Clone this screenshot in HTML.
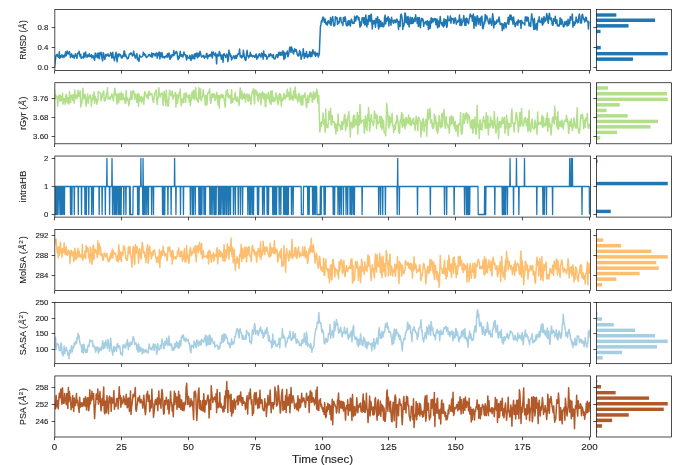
<!DOCTYPE html><html><head><meta charset="utf-8"><style>html,body{margin:0;padding:0;background:#fff;overflow:hidden}svg{display:block}svg text{font-family:"Liberation Sans",sans-serif}</style></head><body><svg width="685" height="465" viewBox="0 0 685 465" style="will-change:transform">
<rect width="685" height="465" fill="#fff"/>
<defs><clipPath id="c0"><rect x="54.85" y="9.45" width="535.60" height="61.05"/></clipPath>
<clipPath id="c1"><rect x="54.85" y="82.75" width="535.60" height="61.05"/></clipPath>
<clipPath id="c2"><rect x="54.85" y="156.05" width="535.60" height="61.05"/></clipPath>
<clipPath id="c3"><rect x="54.85" y="229.35" width="535.60" height="61.05"/></clipPath>
<clipPath id="c4"><rect x="54.85" y="302.65" width="535.60" height="61.05"/></clipPath>
<clipPath id="c5"><rect x="54.85" y="375.95" width="535.60" height="61.05"/></clipPath></defs>
<polyline points="54.50,67.40 55.03,63.00 55.57,58.50 56.10,55.11 56.64,54.83 57.17,54.26 57.71,56.62 58.24,55.68 58.78,57.30 59.31,51.78 59.85,58.37 60.38,55.94 60.92,57.20 61.45,55.61 61.99,54.75 62.52,56.47 63.06,57.63 63.59,55.55 64.13,55.25 64.66,57.07 65.20,53.93 65.73,51.85 66.27,55.74 66.81,54.12 67.34,50.98 67.88,52.84 68.41,53.99 68.94,52.59 69.48,51.63 70.02,54.89 70.55,57.48 71.09,55.45 71.62,53.89 72.16,56.13 72.69,57.32 73.22,55.27 73.76,56.76 74.30,58.18 74.83,55.65 75.36,53.78 75.90,56.02 76.44,56.24 76.97,58.20 77.50,53.23 78.04,53.63 78.58,53.32 79.11,51.24 79.64,55.01 80.18,56.67 80.72,54.15 81.25,58.43 81.78,58.02 82.32,57.50 82.86,56.88 83.39,58.01 83.92,53.08 84.46,56.48 85.00,57.13 85.53,51.92 86.06,55.65 86.60,55.05 87.13,57.25 87.67,54.94 88.20,55.43 88.74,56.34 89.28,53.77 89.81,56.58 90.34,55.56 90.88,56.70 91.41,54.64 91.95,57.86 92.48,57.42 93.02,55.56 93.56,57.02 94.09,58.72 94.62,60.26 95.16,52.99 95.69,57.07 96.23,56.94 96.77,55.66 97.30,53.34 97.84,57.98 98.37,53.23 98.91,56.40 99.44,58.69 99.97,52.61 100.51,54.32 101.05,52.39 101.58,55.51 102.12,58.99 102.65,60.84 103.19,52.64 103.72,53.71 104.25,56.81 104.79,59.40 105.33,57.31 105.86,54.26 106.40,56.00 106.93,55.64 107.47,55.15 108.00,53.85 108.53,56.12 109.07,56.40 109.60,55.55 110.14,55.09 110.67,52.60 111.21,53.90 111.75,57.98 112.28,55.65 112.81,52.36 113.35,57.96 113.88,57.27 114.42,60.68 114.95,56.76 115.49,54.79 116.03,52.18 116.56,57.90 117.09,61.85 117.63,55.00 118.16,54.02 118.70,56.63 119.23,53.93 119.77,54.66 120.31,54.62 120.84,55.84 121.38,58.11 121.91,56.15 122.44,57.78 122.98,55.09 123.52,56.24 124.05,50.91 124.58,51.39 125.12,56.55 125.66,54.46 126.19,56.68 126.72,57.04 127.26,58.87 127.80,58.08 128.33,58.39 128.87,55.91 129.40,54.09 129.94,53.65 130.47,54.11 131.00,52.76 131.54,53.80 132.07,55.03 132.61,56.05 133.14,54.93 133.68,51.13 134.22,54.54 134.75,55.90 135.28,58.10 135.82,57.40 136.36,54.51 136.89,53.75 137.43,59.76 137.96,58.14 138.50,60.23 139.03,61.33 139.56,54.90 140.10,56.33 140.63,56.78 141.17,57.10 141.70,57.12 142.24,56.36 142.78,56.14 143.31,52.32 143.84,54.57 144.38,53.71 144.92,55.51 145.45,54.53 145.99,56.78 146.52,57.68 147.06,56.71 147.59,56.53 148.12,56.00 148.66,54.67 149.19,55.04 149.73,54.37 150.26,56.23 150.80,55.76 151.33,56.94 151.87,52.87 152.41,57.06 152.94,54.17 153.47,53.66 154.01,54.77 154.55,54.16 155.08,55.97 155.62,54.38 156.15,52.95 156.69,53.16 157.22,58.07 157.75,56.19 158.29,53.09 158.82,55.12 159.36,52.00 159.89,58.91 160.43,52.83 160.97,56.12 161.50,56.93 162.03,52.60 162.57,55.68 163.11,57.86 163.64,57.11 164.18,56.49 164.71,57.92 165.25,56.43 165.78,56.52 166.31,55.50 166.85,57.00 167.38,53.76 167.92,57.02 168.45,54.74 168.99,52.97 169.53,55.90 170.06,59.47 170.59,58.54 171.13,55.03 171.67,57.06 172.20,54.87 172.74,55.17 173.27,55.72 173.81,50.40 174.34,54.99 174.88,53.16 175.41,53.54 175.94,51.87 176.48,51.44 177.01,52.64 177.55,56.87 178.08,59.61 178.62,56.34 179.16,58.21 179.69,55.53 180.22,51.28 180.76,55.07 181.30,56.50 181.83,54.81 182.37,56.12 182.90,57.00 183.44,53.93 183.97,51.94 184.50,54.37 185.04,54.88 185.57,54.66 186.11,57.64 186.65,59.90 187.18,55.52 187.72,57.16 188.25,58.03 188.78,57.69 189.32,58.38 189.85,55.28 190.39,57.20 190.93,60.48 191.46,58.39 192.00,54.76 192.53,56.80 193.06,58.69 193.60,57.05 194.13,54.62 194.67,58.88 195.21,53.44 195.74,56.30 196.28,55.70 196.81,52.93 197.34,57.81 197.88,56.83 198.41,53.22 198.95,56.48 199.49,54.80 200.02,51.15 200.56,53.16 201.09,55.71 201.62,57.05 202.16,56.26 202.69,55.83 203.23,56.71 203.76,55.35 204.30,58.20 204.84,56.46 205.37,56.43 205.91,56.99 206.44,53.49 206.97,53.58 207.51,58.64 208.04,56.96 208.58,55.24 209.12,56.30 209.65,54.65 210.19,56.04 210.72,54.19 211.25,55.94 211.79,52.11 212.32,57.90 212.86,54.90 213.40,51.90 213.93,54.36 214.47,54.51 215.00,55.73 215.53,53.04 216.07,55.98 216.60,63.84 217.14,54.37 217.68,56.11 218.21,55.00 218.75,55.91 219.28,51.58 219.81,52.20 220.35,55.96 220.88,55.58 221.42,59.28 221.96,54.75 222.49,55.82 223.03,62.21 223.56,55.20 224.09,53.48 224.63,55.10 225.16,55.40 225.70,57.46 226.24,56.26 226.77,54.03 227.31,55.76 227.84,61.58 228.38,59.66 228.91,50.14 229.44,54.19 229.98,53.35 230.51,56.55 231.05,55.40 231.59,59.92 232.12,58.56 232.66,58.20 233.19,56.54 233.72,55.70 234.26,56.39 234.79,58.68 235.33,57.42 235.87,55.17 236.40,58.39 236.94,56.59 237.47,55.62 238.00,53.82 238.54,53.97 239.07,53.84 239.61,48.96 240.15,56.56 240.68,57.07 241.22,55.41 241.75,57.92 242.28,57.05 242.82,56.73 243.35,50.25 243.89,54.00 244.43,56.48 244.96,59.40 245.50,60.51 246.03,59.79 246.56,53.82 247.10,50.29 247.63,55.82 248.17,55.71 248.71,57.79 249.24,55.75 249.78,56.13 250.31,52.32 250.84,55.95 251.38,54.67 251.91,56.20 252.45,56.76 252.99,55.57 253.52,56.31 254.06,55.71 254.59,57.33 255.12,57.08 255.66,54.66 256.19,54.09 256.73,59.23 257.26,56.10 257.80,57.93 258.34,56.95 258.87,54.60 259.40,53.71 259.94,55.49 260.48,56.16 261.01,57.10 261.54,53.04 262.08,53.75 262.62,55.02 263.15,59.09 263.69,50.98 264.22,55.67 264.75,54.40 265.29,56.33 265.82,54.64 266.36,56.23 266.89,59.25 267.43,57.13 267.97,56.88 268.50,56.70 269.03,54.13 269.57,56.53 270.11,55.32 270.64,53.71 271.18,55.14 271.71,54.99 272.25,57.18 272.78,55.82 273.31,54.45 273.85,58.65 274.38,58.44 274.92,59.03 275.46,57.66 275.99,55.76 276.52,54.69 277.06,54.79 277.60,57.57 278.13,56.25 278.66,52.39 279.20,54.87 279.74,52.26 280.27,55.31 280.81,52.83 281.34,52.20 281.88,55.19 282.41,54.24 282.94,50.70 283.48,55.43 284.01,59.56 284.55,52.17 285.09,58.14 285.62,53.68 286.15,53.22 286.69,53.84 287.23,51.11 287.76,56.75 288.29,56.06 288.83,53.12 289.37,49.60 289.90,46.90 290.44,49.00 290.97,52.31 291.50,47.00 292.04,48.82 292.57,50.49 293.11,52.86 293.64,54.01 294.18,50.17 294.72,48.77 295.25,51.17 295.78,49.82 296.32,49.66 296.86,52.77 297.39,54.76 297.93,55.95 298.46,54.36 299.00,55.76 299.53,50.50 300.06,53.66 300.60,51.94 301.13,59.37 301.67,57.10 302.21,55.34 302.74,54.23 303.27,48.78 303.81,54.96 304.35,58.26 304.88,53.61 305.41,55.86 305.95,56.40 306.49,51.39 307.02,55.99 307.56,57.85 308.09,55.68 308.62,54.59 309.16,56.29 309.69,51.39 310.23,54.09 310.76,56.79 311.30,52.16 311.83,56.27 312.37,53.91 312.90,49.69 313.44,53.30 313.98,52.07 314.51,54.73 315.05,51.91 315.58,56.35 316.12,53.20 316.65,55.04 317.19,53.27 317.72,53.53 318.25,56.99 318.79,55.48 319.32,53.81 319.86,40.00 320.39,27.00 320.93,24.43 321.46,20.81 322.00,22.04 322.54,17.92 323.07,17.14 323.61,17.64 324.14,21.78 324.68,22.41 325.21,18.97 325.75,23.36 326.28,24.40 326.81,22.51 327.35,25.10 327.88,21.08 328.42,20.87 328.95,22.84 329.49,21.49 330.02,24.06 330.56,17.56 331.10,25.44 331.63,19.45 332.17,20.36 332.70,16.39 333.24,22.38 333.77,25.88 334.31,25.89 334.84,25.08 335.38,16.72 335.91,17.70 336.44,18.99 336.98,17.63 337.51,24.42 338.05,22.56 338.58,21.47 339.12,23.01 339.65,18.38 340.19,17.60 340.73,17.54 341.26,22.25 341.80,22.66 342.33,23.55 342.87,25.45 343.40,17.48 343.94,18.61 344.47,21.27 345.00,16.67 345.54,18.55 346.07,24.23 346.61,25.67 347.14,25.87 347.68,22.36 348.21,20.79 348.75,24.90 349.29,20.74 349.82,22.35 350.36,26.05 350.89,20.99 351.43,19.14 351.96,20.84 352.50,23.26 353.03,23.35 353.56,22.24 354.10,23.40 354.63,16.23 355.17,17.34 355.70,21.07 356.24,18.07 356.77,16.05 357.31,16.11 357.85,17.11 358.38,19.85 358.92,17.50 359.45,21.35 359.99,27.13 360.52,21.96 361.06,25.80 361.59,23.19 362.12,17.84 362.66,19.73 363.19,17.62 363.73,23.20 364.26,17.73 364.80,25.12 365.33,24.05 365.87,14.91 366.40,22.71 366.94,26.91 367.48,19.71 368.01,24.36 368.55,15.75 369.08,21.05 369.62,15.55 370.15,21.80 370.69,15.27 371.22,14.13 371.75,20.61 372.29,29.01 372.82,20.80 373.36,24.05 373.89,22.23 374.43,20.38 374.96,23.23 375.50,27.32 376.04,18.27 376.57,22.63 377.11,22.75 377.64,16.71 378.18,25.92 378.71,28.91 379.25,19.55 379.78,26.91 380.31,22.61 380.85,21.00 381.38,26.40 381.92,23.10 382.45,22.77 382.99,26.80 383.52,26.82 384.06,25.47 384.60,17.33 385.13,15.11 385.67,23.92 386.20,18.65 386.74,21.28 387.27,17.61 387.81,19.93 388.34,16.64 388.88,25.96 389.41,18.74 389.94,20.37 390.48,20.47 391.01,25.27 391.55,17.22 392.08,20.37 392.62,20.40 393.15,22.94 393.69,23.25 394.23,20.10 394.76,21.88 395.30,20.13 395.83,22.67 396.37,21.22 396.90,19.04 397.44,20.75 397.97,22.44 398.50,29.30 399.04,21.22 399.57,22.33 400.11,26.52 400.64,15.22 401.18,14.11 401.71,15.78 402.25,19.81 402.79,29.37 403.32,24.26 403.86,26.03 404.39,21.49 404.93,12.89 405.46,13.52 406.00,22.87 406.53,22.25 407.06,17.04 407.60,24.28 408.13,16.62 408.67,24.25 409.20,26.87 409.74,19.79 410.27,17.20 410.81,23.38 411.35,17.96 411.88,23.59 412.42,17.66 412.95,23.34 413.49,22.03 414.02,19.96 414.56,17.96 415.09,21.45 415.62,14.84 416.16,19.06 416.69,19.49 417.23,23.27 417.76,17.39 418.30,26.39 418.83,21.25 419.37,17.39 419.90,25.27 420.44,27.80 420.98,21.96 421.51,18.38 422.05,20.77 422.58,18.83 423.12,19.74 423.65,26.33 424.19,23.65 424.72,22.27 425.25,22.68 425.79,21.38 426.32,24.20 426.86,24.90 427.39,20.75 427.93,21.55 428.46,29.63 429.00,24.41 429.54,21.28 430.07,28.33 430.61,22.74 431.14,17.82 431.68,22.92 432.21,18.54 432.75,19.04 433.28,21.97 433.81,21.00 434.35,18.62 434.88,18.87 435.42,18.78 435.95,24.80 436.49,19.53 437.02,18.98 437.56,27.83 438.10,20.71 438.63,26.29 439.17,26.81 439.70,21.88 440.24,16.55 440.77,21.90 441.31,23.73 441.84,25.10 442.38,22.31 442.91,25.63 443.44,26.93 443.98,18.81 444.51,25.70 445.05,22.78 445.58,19.66 446.12,19.88 446.65,27.45 447.19,25.91 447.73,16.09 448.26,20.54 448.80,20.67 449.33,20.57 449.87,19.39 450.40,15.92 450.94,23.18 451.47,18.45 452.00,19.46 452.54,18.87 453.07,18.32 453.61,23.25 454.14,23.01 454.68,19.33 455.21,17.67 455.75,18.96 456.29,24.15 456.82,22.30 457.36,22.30 457.89,20.37 458.43,20.23 458.96,21.83 459.50,15.08 460.03,25.59 460.56,19.46 461.10,18.98 461.63,25.43 462.17,22.89 462.70,21.76 463.24,19.39 463.77,15.56 464.31,20.79 464.85,25.30 465.38,19.01 465.92,25.52 466.45,18.28 466.99,18.18 467.52,22.41 468.06,21.52 468.59,23.71 469.12,19.24 469.66,17.35 470.19,14.11 470.73,15.73 471.26,16.50 471.80,15.45 472.33,21.19 472.87,19.00 473.40,14.02 473.94,28.36 474.48,19.85 475.01,16.70 475.55,24.63 476.08,25.96 476.62,18.28 477.15,15.64 477.69,16.74 478.22,24.26 478.75,20.82 479.29,18.43 479.82,20.63 480.36,25.30 480.89,17.33 481.43,19.19 481.96,16.13 482.50,27.72 483.04,28.82 483.57,26.07 484.11,21.80 484.64,23.66 485.18,14.56 485.71,20.90 486.25,16.64 486.78,15.82 487.31,17.79 487.85,19.40 488.38,22.89 488.92,24.02 489.45,22.74 489.99,18.35 490.52,23.03 491.06,21.23 491.60,25.33 492.13,18.96 492.67,13.84 493.20,17.68 493.74,27.95 494.27,24.24 494.81,21.22 495.34,24.31 495.88,23.63 496.41,23.35 496.94,19.95 497.48,21.29 498.01,21.99 498.55,19.23 499.08,17.05 499.62,20.93 500.15,24.55 500.69,24.17 501.23,23.57 501.76,23.48 502.30,30.60 502.83,24.05 503.37,25.42 503.90,28.84 504.44,22.99 504.97,22.54 505.50,25.13 506.04,27.85 506.57,23.68 507.11,23.02 507.64,21.96 508.18,17.30 508.71,24.33 509.25,21.04 509.79,15.35 510.32,19.62 510.86,15.04 511.39,16.60 511.93,20.43 512.46,17.98 513.00,24.32 513.53,16.88 514.07,21.34 514.60,23.24 515.13,26.72 515.67,25.57 516.20,22.98 516.74,21.94 517.27,21.26 517.81,25.23 518.35,19.86 518.88,22.83 519.41,21.32 519.95,22.16 520.49,20.61 521.02,28.52 521.56,20.53 522.09,22.05 522.62,22.43 523.16,23.65 523.69,23.35 524.23,23.21 524.76,25.09 525.30,16.94 525.84,20.50 526.37,16.95 526.90,21.27 527.44,17.28 527.98,17.25 528.51,20.32 529.05,25.94 529.58,24.25 530.12,22.95 530.65,26.49 531.18,19.14 531.72,13.74 532.25,18.38 532.79,19.81 533.33,25.28 533.86,29.48 534.39,18.42 534.93,29.27 535.46,28.30 536.00,25.62 536.54,23.47 537.07,30.10 537.61,23.38 538.14,20.14 538.67,21.59 539.21,16.71 539.75,22.05 540.28,21.12 540.82,22.45 541.35,22.81 541.88,18.02 542.42,25.21 542.95,18.65 543.49,23.86 544.02,16.40 544.56,21.64 545.10,18.61 545.63,20.96 546.16,19.05 546.70,13.41 547.24,15.95 547.77,20.52 548.31,23.34 548.84,16.72 549.38,13.15 549.91,16.73 550.44,19.71 550.98,18.86 551.51,18.09 552.05,23.63 552.59,25.13 553.12,24.66 553.65,18.81 554.19,21.12 554.73,20.65 555.26,16.33 555.80,23.38 556.33,22.07 556.87,19.84 557.40,25.92 557.93,24.90 558.47,25.01 559.00,26.21 559.54,24.80 560.08,17.71 560.61,19.30 561.14,24.39 561.68,19.33 562.21,21.08 562.75,22.67 563.29,26.57 563.82,26.86 564.36,25.54 564.89,21.56 565.42,24.54 565.96,23.81 566.50,21.29 567.03,26.00 567.57,23.98 568.10,19.29 568.63,25.29 569.17,21.27 569.71,23.37 570.24,16.53 570.77,20.32 571.31,17.90 571.85,17.32 572.38,13.99 572.91,27.23 573.45,22.01 573.99,22.30 574.52,25.33 575.05,21.72 575.59,23.18 576.12,17.05 576.66,21.16 577.20,19.88 577.73,22.77 578.26,22.25 578.80,16.77 579.34,14.07 579.87,16.40 580.40,22.88 580.94,23.10 581.48,23.07 582.01,14.76 582.54,14.40 583.08,17.09 583.62,19.34 584.15,18.86 584.68,22.05 585.22,20.88 585.75,17.17 586.29,17.47 586.83,21.04 587.36,21.51 587.89,21.10 588.43,29.05 588.97,21.96 589.50,21.86" fill="none" stroke="#1f78b4" stroke-width="1.5" stroke-linejoin="round" clip-path="url(#c0)"/>
<polyline points="54.50,89.00 55.03,98.90 55.57,94.44 56.10,96.61 56.64,96.87 57.17,97.14 57.71,106.26 58.24,96.62 58.78,95.62 59.31,94.81 59.85,101.12 60.38,95.56 60.92,96.39 61.45,100.62 61.99,100.53 62.52,93.09 63.06,104.28 63.59,98.83 64.13,101.16 64.66,98.74 65.20,104.43 65.73,96.17 66.27,94.16 66.81,98.39 67.34,103.00 67.88,97.47 68.41,100.86 68.94,104.03 69.48,91.61 70.02,102.34 70.55,102.40 71.09,95.43 71.62,96.60 72.16,94.94 72.69,100.33 73.22,94.67 73.76,99.54 74.30,103.22 74.83,90.12 75.36,98.17 75.90,96.81 76.44,94.87 76.97,98.70 77.50,96.63 78.04,90.32 78.58,93.74 79.11,96.56 79.64,93.72 80.18,90.89 80.72,106.96 81.25,104.18 81.78,103.27 82.32,98.07 82.86,88.19 83.39,94.85 83.92,99.04 84.46,95.21 85.00,94.25 85.53,98.16 86.06,106.22 86.60,99.26 87.13,97.82 87.67,94.05 88.20,103.38 88.74,99.31 89.28,97.34 89.81,96.08 90.34,94.82 90.88,98.26 91.41,106.51 91.95,98.85 92.48,100.16 93.02,94.73 93.56,98.81 94.09,91.74 94.62,103.41 95.16,96.14 95.69,99.87 96.23,98.66 96.77,104.14 97.30,101.10 97.84,100.98 98.37,91.35 98.91,92.52 99.44,92.49 99.97,92.73 100.51,93.20 101.05,100.74 101.58,97.33 102.12,97.26 102.65,93.21 103.19,92.72 103.72,90.85 104.25,101.03 104.79,97.92 105.33,100.19 105.86,98.33 106.40,93.21 106.93,96.30 107.47,87.69 108.00,99.06 108.53,97.29 109.07,97.93 109.60,97.49 110.14,99.60 110.67,96.18 111.21,96.98 111.75,93.98 112.28,95.55 112.81,98.15 113.35,100.93 113.88,95.70 114.42,90.74 114.95,88.24 115.49,94.88 116.03,93.51 116.56,99.07 117.09,104.09 117.63,94.23 118.16,102.27 118.70,102.68 119.23,93.34 119.77,94.62 120.31,99.80 120.84,93.73 121.38,92.28 121.91,99.84 122.44,94.70 122.98,93.97 123.52,99.52 124.05,97.78 124.58,98.22 125.12,103.51 125.66,103.51 126.19,90.58 126.72,100.71 127.26,97.78 127.80,98.88 128.33,101.15 128.87,105.64 129.40,101.76 129.94,97.42 130.47,99.36 131.00,91.11 131.54,99.14 132.07,98.55 132.61,92.41 133.14,90.83 133.68,90.97 134.22,93.11 134.75,99.24 135.28,96.69 135.82,94.22 136.36,95.71 136.89,102.40 137.43,96.41 137.96,93.60 138.50,106.13 139.03,94.46 139.56,98.93 140.10,101.09 140.63,98.18 141.17,96.28 141.70,102.48 142.24,98.21 142.78,99.96 143.31,97.23 143.84,104.18 144.38,94.03 144.92,91.56 145.45,92.95 145.99,96.20 146.52,95.97 147.06,97.57 147.59,94.43 148.12,98.89 148.66,91.39 149.19,91.30 149.73,95.40 150.26,93.95 150.80,93.34 151.33,94.24 151.87,93.74 152.41,97.89 152.94,100.16 153.47,102.64 154.01,98.29 154.55,94.26 155.08,92.24 155.62,92.03 156.15,89.91 156.69,98.86 157.22,104.49 157.75,97.40 158.29,98.15 158.82,87.85 159.36,95.86 159.89,94.25 160.43,97.04 160.97,93.64 161.50,93.60 162.03,93.07 162.57,93.94 163.11,105.29 163.64,100.74 164.18,91.31 164.71,95.51 165.25,95.37 165.78,105.56 166.31,90.31 166.85,99.06 167.38,100.74 167.92,106.48 168.45,105.21 168.99,97.20 169.53,90.32 170.06,92.15 170.59,93.71 171.13,95.86 171.67,94.08 172.20,91.07 172.74,99.11 173.27,97.83 173.81,95.46 174.34,94.83 174.88,94.14 175.41,92.40 175.94,107.30 176.48,96.64 177.01,94.46 177.55,103.22 178.08,96.15 178.62,98.29 179.16,92.91 179.69,94.94 180.22,89.11 180.76,98.32 181.30,105.99 181.83,99.11 182.37,98.87 182.90,102.33 183.44,102.63 183.97,93.95 184.50,93.60 185.04,95.37 185.57,102.37 186.11,92.64 186.65,94.29 187.18,95.83 187.72,97.11 188.25,98.04 188.78,95.62 189.32,102.19 189.85,94.44 190.39,105.64 190.93,98.83 191.46,100.21 192.00,92.13 192.53,98.01 193.06,91.90 193.60,90.30 194.13,99.73 194.67,97.28 195.21,92.11 195.74,87.82 196.28,99.18 196.81,97.27 197.34,100.41 197.88,101.38 198.41,102.30 198.95,87.82 199.49,89.86 200.02,98.25 200.56,88.91 201.09,100.84 201.62,98.95 202.16,96.97 202.69,96.51 203.23,89.91 203.76,95.68 204.30,95.86 204.84,98.29 205.37,105.38 205.91,95.33 206.44,99.52 206.97,104.72 207.51,94.44 208.04,92.79 208.58,92.97 209.12,91.32 209.65,88.97 210.19,98.59 210.72,103.37 211.25,99.91 211.79,94.68 212.32,93.92 212.86,97.56 213.40,93.65 213.93,95.77 214.47,94.41 215.00,100.47 215.53,99.90 216.07,97.80 216.60,92.14 217.14,94.23 217.68,99.82 218.21,104.90 218.75,95.50 219.28,107.97 219.81,96.33 220.35,95.18 220.88,98.23 221.42,94.24 221.96,96.81 222.49,97.45 223.03,95.09 223.56,95.60 224.09,99.23 224.63,102.56 225.16,107.20 225.70,98.80 226.24,90.95 226.77,94.44 227.31,89.78 227.84,96.63 228.38,93.98 228.91,98.10 229.44,95.96 229.98,96.87 230.51,95.23 231.05,103.44 231.59,89.67 232.12,100.98 232.66,102.34 233.19,100.12 233.72,98.44 234.26,98.95 234.79,95.38 235.33,92.25 235.87,100.01 236.40,100.53 236.94,101.34 237.47,96.89 238.00,101.60 238.54,100.24 239.07,105.47 239.61,97.92 240.15,87.97 240.68,91.55 241.22,98.15 241.75,91.07 242.28,99.41 242.82,94.05 243.35,97.22 243.89,98.22 244.43,93.32 244.96,98.26 245.50,102.05 246.03,95.04 246.56,95.27 247.10,94.04 247.63,99.28 248.17,101.32 248.71,94.41 249.24,94.74 249.78,100.10 250.31,97.31 250.84,104.15 251.38,97.19 251.91,93.89 252.45,91.05 252.99,93.20 253.52,88.69 254.06,96.93 254.59,103.94 255.12,90.50 255.66,89.88 256.19,90.87 256.73,95.16 257.26,92.28 257.80,99.72 258.34,101.37 258.87,94.12 259.40,95.31 259.94,93.27 260.48,99.14 261.01,104.73 261.54,93.12 262.08,94.31 262.62,91.67 263.15,98.27 263.69,98.87 264.22,93.54 264.75,95.41 265.29,106.33 265.82,106.76 266.36,94.04 266.89,96.66 267.43,95.21 267.97,98.68 268.50,92.27 269.03,98.94 269.57,101.66 270.11,102.91 270.64,91.26 271.18,104.53 271.71,93.82 272.25,90.69 272.78,101.53 273.31,101.52 273.85,97.47 274.38,101.23 274.92,100.68 275.46,99.10 275.99,92.79 276.52,95.32 277.06,97.08 277.60,102.44 278.13,104.56 278.66,97.40 279.20,94.70 279.74,93.59 280.27,100.84 280.81,94.83 281.34,106.27 281.88,99.04 282.41,98.12 282.94,100.34 283.48,97.57 284.01,93.50 284.55,97.40 285.09,99.11 285.62,95.36 286.15,96.21 286.69,97.08 287.23,89.33 287.76,93.21 288.29,96.36 288.83,92.38 289.37,99.01 289.90,99.87 290.44,88.10 290.97,93.96 291.50,98.95 292.04,96.17 292.57,99.48 293.11,100.26 293.64,91.11 294.18,97.84 294.72,93.58 295.25,87.01 295.78,98.54 296.32,94.16 296.86,96.53 297.39,100.26 297.93,102.00 298.46,96.73 299.00,93.34 299.53,94.22 300.06,101.75 300.60,96.39 301.13,105.00 301.67,104.89 302.21,95.31 302.74,105.03 303.27,95.71 303.81,96.76 304.35,97.14 304.88,92.95 305.41,97.41 305.95,100.14 306.49,107.63 307.02,104.30 307.56,95.73 308.09,98.61 308.62,102.47 309.16,97.41 309.69,93.90 310.23,96.53 310.76,92.39 311.30,97.17 311.83,95.04 312.37,102.14 312.90,96.75 313.44,91.87 313.98,99.76 314.51,96.34 315.05,93.15 315.58,98.01 316.12,93.77 316.65,89.29 317.19,91.11 317.72,101.09 318.25,103.62 318.79,95.62 319.32,116.00 319.86,132.00 320.39,127.00 320.93,122.41 321.46,126.19 322.00,121.46 322.54,122.47 323.07,113.10 323.61,124.24 324.14,119.70 324.68,124.06 325.21,132.32 325.75,109.11 326.28,127.26 326.81,125.16 327.35,124.63 327.88,127.77 328.42,120.45 328.95,111.27 329.49,117.66 330.02,119.62 330.56,108.20 331.10,123.78 331.63,125.11 332.17,115.43 332.70,121.60 333.24,122.19 333.77,122.01 334.31,121.71 334.84,127.89 335.38,123.71 335.91,133.97 336.44,124.44 336.98,129.83 337.51,130.95 338.05,114.01 338.58,122.82 339.12,124.95 339.65,125.95 340.19,125.37 340.73,129.87 341.26,128.30 341.80,121.53 342.33,129.37 342.87,122.05 343.40,124.69 343.94,119.50 344.47,114.41 345.00,115.11 345.54,130.43 346.07,127.78 346.61,119.25 347.14,126.39 347.68,117.30 348.21,117.24 348.75,111.65 349.29,119.00 349.82,125.35 350.36,137.08 350.89,122.05 351.43,123.92 351.96,124.88 352.50,127.92 353.03,118.99 353.56,115.48 354.10,126.88 354.63,115.57 355.17,124.83 355.70,119.75 356.24,122.44 356.77,125.32 357.31,112.48 357.85,134.23 358.38,115.69 358.92,115.18 359.45,125.02 359.99,104.52 360.52,115.61 361.06,123.26 361.59,120.44 362.12,121.57 362.66,120.24 363.19,120.34 363.73,119.73 364.26,133.33 364.80,126.86 365.33,116.32 365.87,119.66 366.40,126.92 366.94,130.49 367.48,114.91 368.01,120.64 368.55,107.67 369.08,116.67 369.62,131.18 370.15,126.68 370.69,120.18 371.22,114.72 371.75,120.50 372.29,121.61 372.82,122.90 373.36,125.83 373.89,122.65 374.43,110.90 374.96,116.26 375.50,118.26 376.04,114.29 376.57,128.69 377.11,115.51 377.64,123.69 378.18,123.67 378.71,122.79 379.25,121.58 379.78,116.52 380.31,121.86 380.85,127.00 381.38,116.16 381.92,129.35 382.45,118.78 382.99,127.06 383.52,120.87 384.06,131.69 384.60,132.57 385.13,133.03 385.67,135.77 386.20,121.97 386.74,103.20 387.27,110.87 387.81,113.60 388.34,126.55 388.88,127.91 389.41,116.21 389.94,125.12 390.48,118.94 391.01,117.83 391.55,122.37 392.08,113.21 392.62,125.37 393.15,125.42 393.69,132.47 394.23,128.39 394.76,124.83 395.30,129.38 395.83,122.16 396.37,123.19 396.90,115.23 397.44,117.46 397.97,121.72 398.50,128.42 399.04,132.59 399.57,133.23 400.11,121.11 400.64,122.13 401.18,117.23 401.71,112.45 402.25,127.11 402.79,114.58 403.32,125.91 403.86,119.53 404.39,121.02 404.93,128.75 405.46,118.08 406.00,125.58 406.53,117.52 407.06,121.71 407.60,121.65 408.13,123.29 408.67,115.00 409.20,120.10 409.74,124.42 410.27,118.09 410.81,125.43 411.35,125.72 411.88,122.21 412.42,119.70 412.95,123.22 413.49,118.01 414.02,124.46 414.56,123.04 415.09,130.24 415.62,122.48 416.16,116.24 416.69,123.63 417.23,120.21 417.76,130.81 418.30,117.19 418.83,117.71 419.37,120.09 419.90,120.27 420.44,122.70 420.98,136.87 421.51,122.78 422.05,130.47 422.58,119.55 423.12,118.56 423.65,121.46 424.19,131.79 424.72,124.97 425.25,125.23 425.79,119.44 426.32,121.39 426.86,136.25 427.39,116.66 427.93,109.23 428.46,119.69 429.00,115.69 429.54,113.21 430.07,108.39 430.61,122.94 431.14,121.85 431.68,120.05 432.21,126.86 432.75,128.81 433.28,123.58 433.81,127.49 434.35,114.00 434.88,123.51 435.42,115.99 435.95,120.74 436.49,130.69 437.02,122.51 437.56,133.53 438.10,130.70 438.63,127.80 439.17,115.59 439.70,121.86 440.24,124.86 440.77,127.85 441.31,122.68 441.84,113.44 442.38,126.61 442.91,113.16 443.44,116.57 443.98,109.27 444.51,120.91 445.05,126.86 445.58,128.25 446.12,116.48 446.65,124.56 447.19,123.89 447.73,125.57 448.26,128.00 448.80,125.24 449.33,133.11 449.87,116.88 450.40,124.85 450.94,124.44 451.47,115.48 452.00,123.20 452.54,121.64 453.07,116.80 453.61,125.40 454.14,122.13 454.68,128.60 455.21,121.27 455.75,131.10 456.29,126.39 456.82,125.43 457.36,129.40 457.89,136.18 458.43,124.31 458.96,124.40 459.50,123.16 460.03,125.03 460.56,112.39 461.10,131.42 461.63,134.28 462.17,133.09 462.70,124.65 463.24,113.78 463.77,116.11 464.31,123.17 464.85,120.43 465.38,113.55 465.92,118.63 466.45,112.82 466.99,113.76 467.52,123.24 468.06,117.90 468.59,114.65 469.12,116.67 469.66,117.89 470.19,125.04 470.73,128.23 471.26,127.69 471.80,120.38 472.33,119.62 472.87,133.19 473.40,124.58 473.94,119.81 474.48,127.81 475.01,117.03 475.55,131.37 476.08,134.20 476.62,128.53 477.15,105.57 477.69,123.00 478.22,127.16 478.75,125.41 479.29,138.56 479.82,120.36 480.36,119.86 480.89,129.38 481.43,124.23 481.96,130.00 482.50,124.22 483.04,119.94 483.57,116.72 484.11,121.64 484.64,120.61 485.18,128.16 485.71,126.26 486.25,112.83 486.78,128.31 487.31,121.45 487.85,115.96 488.38,134.86 488.92,123.89 489.45,124.22 489.99,126.93 490.52,116.81 491.06,123.58 491.60,125.02 492.13,120.18 492.67,125.12 493.20,128.15 493.74,125.64 494.27,111.63 494.81,120.26 495.34,125.26 495.88,133.05 496.41,128.76 496.94,126.75 497.48,117.09 498.01,126.79 498.55,138.45 499.08,125.35 499.62,121.47 500.15,124.22 500.69,127.48 501.23,121.45 501.76,124.09 502.30,117.35 502.83,121.25 503.37,123.22 503.90,120.51 504.44,117.19 504.97,133.15 505.50,124.89 506.04,128.39 506.57,115.26 507.11,121.60 507.64,121.33 508.18,135.35 508.71,129.65 509.25,123.41 509.79,127.03 510.32,124.72 510.86,126.36 511.39,114.14 511.93,109.00 512.46,121.42 513.00,123.27 513.53,123.58 514.07,131.95 514.60,123.00 515.13,123.75 515.67,120.51 516.20,112.52 516.74,115.36 517.27,118.22 517.81,121.61 518.35,132.28 518.88,126.25 519.41,122.37 519.95,112.50 520.49,126.23 521.02,120.71 521.56,108.40 522.09,123.17 522.62,124.46 523.16,126.01 523.69,125.15 524.23,118.78 524.76,121.64 525.30,117.36 525.84,121.52 526.37,125.19 526.90,126.08 527.44,118.66 527.98,131.61 528.51,123.01 529.05,110.27 529.58,130.00 530.12,129.65 530.65,131.99 531.18,123.81 531.72,121.56 532.25,118.96 532.79,127.13 533.33,128.81 533.86,128.54 534.39,128.91 534.93,119.93 535.46,124.55 536.00,127.52 536.54,123.53 537.07,134.18 537.61,112.08 538.14,125.06 538.67,122.00 539.21,123.58 539.75,123.73 540.28,122.44 540.82,124.19 541.35,122.86 541.88,115.21 542.42,126.52 542.95,127.39 543.49,117.01 544.02,125.79 544.56,123.62 545.10,125.89 545.63,123.83 546.16,118.39 546.70,125.14 547.24,113.01 547.77,131.39 548.31,119.21 548.84,118.53 549.38,126.82 549.91,123.40 550.44,128.07 550.98,135.04 551.51,128.72 552.05,123.02 552.59,117.30 553.12,122.15 553.65,117.03 554.19,123.94 554.73,106.34 555.26,117.10 555.80,119.31 556.33,117.02 556.87,126.52 557.40,128.21 557.93,111.83 558.47,129.56 559.00,121.42 559.54,124.49 560.08,126.26 560.61,121.23 561.14,123.51 561.68,126.92 562.21,119.93 562.75,124.27 563.29,128.88 563.82,123.18 564.36,121.99 564.89,120.46 565.42,119.73 565.96,121.29 566.50,115.17 567.03,122.11 567.57,119.17 568.10,124.77 568.63,133.54 569.17,129.71 569.71,121.26 570.24,126.13 570.77,123.57 571.31,118.64 571.85,126.30 572.38,130.52 572.91,127.97 573.45,124.20 573.99,117.76 574.52,121.10 575.05,126.80 575.59,125.41 576.12,128.26 576.66,120.88 577.20,107.67 577.73,127.30 578.26,128.14 578.80,132.87 579.34,132.95 579.87,129.70 580.40,121.22 580.94,114.64 581.48,118.48 582.01,117.52 582.54,114.26 583.08,119.71 583.62,128.69 584.15,119.96 584.68,123.38 585.22,127.16 585.75,118.28 586.29,120.56 586.83,118.84 587.36,113.53 587.89,125.31 588.43,128.00 588.97,128.38 589.50,123.78" fill="none" stroke="#b2df8a" stroke-width="1.5" stroke-linejoin="round" clip-path="url(#c1)"/>
<polyline points="54.50,186.50 54.77,186.50 55.03,186.50 55.30,214.50 55.57,186.50 55.84,186.50 56.10,186.50 56.37,214.50 56.64,186.50 56.91,186.50 57.17,186.50 57.44,214.50 57.71,186.50 57.98,186.50 58.24,186.50 58.51,186.50 58.78,186.50 59.05,214.50 59.31,186.50 59.58,186.50 59.85,186.50 60.12,186.50 60.38,186.50 60.65,214.50 60.92,186.50 61.19,186.50 61.45,186.50 61.72,214.50 61.99,186.50 62.26,186.50 62.52,186.50 62.79,186.50 63.06,214.50 63.33,186.50 63.59,186.50 63.86,186.50 64.13,186.50 64.40,214.50 64.66,186.50 64.93,186.50 65.20,186.50 65.47,186.50 65.73,186.50 66.00,186.50 66.27,186.50 66.54,186.50 66.81,186.50 67.07,186.50 67.34,186.50 67.61,186.50 67.88,186.50 68.14,186.50 68.41,186.50 68.68,186.50 68.94,186.50 69.21,186.50 69.48,186.50 69.75,186.50 70.02,186.50 70.28,186.50 70.55,214.50 70.82,186.50 71.09,186.50 71.35,186.50 71.62,186.50 71.89,214.50 72.16,186.50 72.42,186.50 72.69,186.50 72.96,186.50 73.22,186.50 73.49,186.50 73.76,186.50 74.03,186.50 74.30,214.50 74.56,186.50 74.83,186.50 75.10,186.50 75.36,186.50 75.63,186.50 75.90,186.50 76.17,186.50 76.44,186.50 76.70,186.50 76.97,186.50 77.24,186.50 77.50,186.50 77.77,186.50 78.04,186.50 78.31,214.50 78.58,186.50 78.84,186.50 79.11,186.50 79.38,186.50 79.64,186.50 79.91,186.50 80.18,186.50 80.45,186.50 80.72,186.50 80.98,186.50 81.25,186.50 81.52,214.50 81.78,186.50 82.05,186.50 82.32,186.50 82.59,186.50 82.86,186.50 83.12,186.50 83.39,186.50 83.66,186.50 83.92,186.50 84.19,186.50 84.46,186.50 84.73,186.50 85.00,214.50 85.26,186.50 85.53,186.50 85.80,186.50 86.06,186.50 86.33,214.50 86.60,186.50 86.87,186.50 87.13,186.50 87.40,186.50 87.67,186.50 87.94,186.50 88.20,186.50 88.47,186.50 88.74,214.50 89.01,186.50 89.28,186.50 89.54,186.50 89.81,186.50 90.08,186.50 90.34,186.50 90.61,186.50 90.88,186.50 91.15,186.50 91.41,186.50 91.68,214.50 91.95,186.50 92.22,186.50 92.48,186.50 92.75,186.50 93.02,186.50 93.29,214.50 93.56,186.50 93.82,186.50 94.09,186.50 94.36,186.50 94.62,186.50 94.89,186.50 95.16,186.50 95.43,186.50 95.69,186.50 95.96,186.50 96.23,186.50 96.50,186.50 96.77,186.50 97.03,186.50 97.30,186.50 97.57,186.50 97.84,186.50 98.10,186.50 98.37,186.50 98.64,186.50 98.91,186.50 99.17,214.50 99.44,186.50 99.71,186.50 99.97,186.50 100.24,186.50 100.51,186.50 100.78,186.50 101.05,186.50 101.31,186.50 101.58,186.50 101.85,186.50 102.12,214.50 102.38,186.50 102.65,186.50 102.92,186.50 103.19,186.50 103.45,186.50 103.72,186.50 103.99,186.50 104.25,186.50 104.52,186.50 104.79,186.50 105.06,186.50 105.33,214.50 105.59,186.50 105.86,186.50 106.13,186.50 106.40,186.50 106.66,186.50 106.93,158.50 107.20,186.50 107.47,186.50 107.73,186.50 108.00,186.50 108.27,186.50 108.53,186.50 108.80,186.50 109.07,186.50 109.34,186.50 109.60,214.50 109.87,186.50 110.14,186.50 110.41,186.50 110.67,186.50 110.94,186.50 111.21,186.50 111.48,186.50 111.75,186.50 112.01,158.50 112.28,186.50 112.55,214.50 112.81,186.50 113.08,186.50 113.35,186.50 113.62,186.50 113.88,186.50 114.15,214.50 114.42,186.50 114.69,186.50 114.95,186.50 115.22,214.50 115.49,186.50 115.76,186.50 116.03,186.50 116.29,186.50 116.56,214.50 116.83,186.50 117.09,186.50 117.36,186.50 117.63,186.50 117.90,186.50 118.16,214.50 118.43,186.50 118.70,186.50 118.97,186.50 119.23,186.50 119.50,214.50 119.77,186.50 120.04,186.50 120.31,186.50 120.57,214.50 120.84,186.50 121.11,214.50 121.38,186.50 121.64,186.50 121.91,186.50 122.18,186.50 122.44,186.50 122.71,186.50 122.98,186.50 123.25,186.50 123.52,186.50 123.78,214.50 124.05,186.50 124.32,186.50 124.58,186.50 124.85,186.50 125.12,186.50 125.39,186.50 125.66,186.50 125.92,214.50 126.19,186.50 126.46,186.50 126.72,186.50 126.99,186.50 127.26,186.50 127.53,186.50 127.80,186.50 128.06,186.50 128.33,186.50 128.60,186.50 128.87,186.50 129.13,186.50 129.40,186.50 129.67,214.50 129.94,186.50 130.20,186.50 130.47,214.50 130.74,214.50 131.00,214.50 131.27,214.50 131.54,214.50 131.81,214.50 132.07,214.50 132.34,214.50 132.61,214.50 132.88,214.50 133.14,186.50 133.41,186.50 133.68,186.50 133.95,186.50 134.22,186.50 134.48,186.50 134.75,186.50 135.02,186.50 135.28,186.50 135.55,186.50 135.82,186.50 136.09,186.50 136.36,186.50 136.62,186.50 136.89,186.50 137.16,186.50 137.43,186.50 137.69,214.50 137.96,186.50 138.23,186.50 138.50,214.50 138.76,186.50 139.03,214.50 139.30,186.50 139.56,186.50 139.83,186.50 140.10,186.50 140.37,186.50 140.63,186.50 140.90,158.50 141.17,186.50 141.44,186.50 141.70,186.50 141.97,186.50 142.24,186.50 142.51,186.50 142.78,214.50 143.04,158.50 143.31,186.50 143.58,186.50 143.84,214.50 144.11,186.50 144.38,186.50 144.65,186.50 144.92,186.50 145.18,214.50 145.45,186.50 145.72,186.50 145.99,186.50 146.25,186.50 146.52,186.50 146.79,214.50 147.06,186.50 147.32,186.50 147.59,186.50 147.86,186.50 148.12,186.50 148.39,214.50 148.66,186.50 148.93,186.50 149.19,186.50 149.46,186.50 149.73,186.50 150.00,186.50 150.26,186.50 150.53,186.50 150.80,186.50 151.07,186.50 151.33,186.50 151.60,214.50 151.87,186.50 152.14,186.50 152.41,186.50 152.67,186.50 152.94,186.50 153.21,186.50 153.47,214.50 153.74,186.50 154.01,186.50 154.28,186.50 154.55,186.50 154.81,186.50 155.08,186.50 155.35,186.50 155.62,186.50 155.88,186.50 156.15,186.50 156.42,186.50 156.69,186.50 156.95,186.50 157.22,186.50 157.49,186.50 157.75,186.50 158.02,186.50 158.29,186.50 158.56,186.50 158.82,186.50 159.09,186.50 159.36,186.50 159.63,186.50 159.89,186.50 160.16,186.50 160.43,186.50 160.70,186.50 160.97,186.50 161.23,186.50 161.50,186.50 161.77,186.50 162.03,186.50 162.30,186.50 162.57,214.50 162.84,186.50 163.11,186.50 163.37,186.50 163.64,186.50 163.91,214.50 164.18,186.50 164.44,186.50 164.71,214.50 164.98,186.50 165.25,186.50 165.51,186.50 165.78,186.50 166.05,186.50 166.31,186.50 166.58,186.50 166.85,186.50 167.12,186.50 167.38,186.50 167.65,186.50 167.92,214.50 168.19,186.50 168.45,186.50 168.72,186.50 168.99,186.50 169.26,186.50 169.53,186.50 169.79,186.50 170.06,186.50 170.33,186.50 170.59,186.50 170.86,186.50 171.13,214.50 171.40,186.50 171.67,186.50 171.93,186.50 172.20,186.50 172.47,186.50 172.74,186.50 173.00,186.50 173.27,186.50 173.54,186.50 173.81,186.50 174.07,186.50 174.34,186.50 174.61,158.50 174.88,186.50 175.14,186.50 175.41,186.50 175.68,186.50 175.94,214.50 176.21,186.50 176.48,186.50 176.75,186.50 177.01,186.50 177.28,186.50 177.55,186.50 177.82,186.50 178.08,186.50 178.35,186.50 178.62,186.50 178.89,186.50 179.16,186.50 179.42,186.50 179.69,186.50 179.96,186.50 180.22,186.50 180.49,214.50 180.76,186.50 181.03,186.50 181.30,186.50 181.56,186.50 181.83,186.50 182.10,186.50 182.37,186.50 182.63,186.50 182.90,186.50 183.17,186.50 183.44,214.50 183.70,186.50 183.97,186.50 184.24,186.50 184.50,186.50 184.77,186.50 185.04,186.50 185.31,186.50 185.57,186.50 185.84,186.50 186.11,186.50 186.38,186.50 186.65,186.50 186.91,186.50 187.18,186.50 187.45,186.50 187.72,186.50 187.98,186.50 188.25,186.50 188.52,186.50 188.78,186.50 189.05,186.50 189.32,186.50 189.59,186.50 189.85,186.50 190.12,186.50 190.39,214.50 190.66,186.50 190.93,186.50 191.19,186.50 191.46,186.50 191.73,186.50 192.00,186.50 192.26,214.50 192.53,186.50 192.80,186.50 193.06,186.50 193.33,214.50 193.60,186.50 193.87,186.50 194.13,186.50 194.40,186.50 194.67,186.50 194.94,186.50 195.21,214.50 195.47,186.50 195.74,186.50 196.01,186.50 196.28,186.50 196.54,186.50 196.81,186.50 197.08,186.50 197.34,186.50 197.61,186.50 197.88,186.50 198.15,186.50 198.41,186.50 198.68,186.50 198.95,214.50 199.22,186.50 199.49,186.50 199.75,186.50 200.02,214.50 200.29,186.50 200.56,214.50 200.82,186.50 201.09,186.50 201.36,186.50 201.62,186.50 201.89,214.50 202.16,186.50 202.43,186.50 202.69,186.50 202.96,186.50 203.23,186.50 203.50,186.50 203.76,186.50 204.03,214.50 204.30,186.50 204.57,186.50 204.84,186.50 205.10,186.50 205.37,214.50 205.64,186.50 205.91,186.50 206.17,186.50 206.44,186.50 206.71,186.50 206.97,186.50 207.24,186.50 207.51,186.50 207.78,186.50 208.04,186.50 208.31,186.50 208.58,186.50 208.85,186.50 209.12,186.50 209.38,186.50 209.65,186.50 209.92,214.50 210.19,186.50 210.45,186.50 210.72,186.50 210.99,186.50 211.25,214.50 211.52,186.50 211.79,186.50 212.06,186.50 212.32,186.50 212.59,186.50 212.86,214.50 213.13,186.50 213.40,186.50 213.66,186.50 213.93,186.50 214.20,186.50 214.47,214.50 214.73,186.50 215.00,186.50 215.27,186.50 215.53,214.50 215.80,186.50 216.07,214.50 216.34,186.50 216.60,186.50 216.87,186.50 217.14,186.50 217.41,186.50 217.68,186.50 217.94,186.50 218.21,186.50 218.48,214.50 218.75,186.50 219.01,214.50 219.28,186.50 219.55,186.50 219.81,186.50 220.08,186.50 220.35,214.50 220.62,186.50 220.88,186.50 221.15,186.50 221.42,186.50 221.69,186.50 221.96,214.50 222.22,186.50 222.49,186.50 222.76,186.50 223.03,186.50 223.29,186.50 223.56,214.50 223.83,186.50 224.09,186.50 224.36,186.50 224.63,186.50 224.90,214.50 225.16,186.50 225.43,186.50 225.70,186.50 225.97,186.50 226.24,186.50 226.50,214.50 226.77,186.50 227.04,186.50 227.31,186.50 227.57,186.50 227.84,186.50 228.11,214.50 228.38,186.50 228.64,186.50 228.91,214.50 229.18,186.50 229.44,186.50 229.71,186.50 229.98,186.50 230.25,186.50 230.51,214.50 230.78,186.50 231.05,186.50 231.32,186.50 231.59,186.50 231.85,186.50 232.12,186.50 232.39,186.50 232.66,186.50 232.92,186.50 233.19,186.50 233.46,214.50 233.72,186.50 233.99,186.50 234.26,186.50 234.53,186.50 234.79,186.50 235.06,186.50 235.33,214.50 235.60,186.50 235.87,186.50 236.13,186.50 236.40,186.50 236.67,186.50 236.94,186.50 237.20,186.50 237.47,186.50 237.74,186.50 238.00,186.50 238.27,214.50 238.54,186.50 238.81,186.50 239.07,186.50 239.34,186.50 239.61,186.50 239.88,186.50 240.15,186.50 240.41,214.50 240.68,186.50 240.95,186.50 241.22,186.50 241.48,186.50 241.75,186.50 242.02,186.50 242.28,186.50 242.55,214.50 242.82,186.50 243.09,186.50 243.35,186.50 243.62,186.50 243.89,186.50 244.16,186.50 244.43,186.50 244.69,186.50 244.96,186.50 245.23,186.50 245.50,186.50 245.76,186.50 246.03,186.50 246.30,186.50 246.56,186.50 246.83,186.50 247.10,186.50 247.37,186.50 247.63,186.50 247.90,214.50 248.17,186.50 248.44,186.50 248.71,186.50 248.97,186.50 249.24,186.50 249.51,214.50 249.78,186.50 250.04,186.50 250.31,186.50 250.58,214.50 250.84,186.50 251.11,186.50 251.38,186.50 251.65,186.50 251.91,186.50 252.18,214.50 252.45,186.50 252.72,186.50 252.99,186.50 253.25,186.50 253.52,214.50 253.79,186.50 254.06,186.50 254.32,186.50 254.59,186.50 254.86,186.50 255.12,186.50 255.39,186.50 255.66,186.50 255.93,186.50 256.19,186.50 256.46,186.50 256.73,186.50 257.00,186.50 257.26,186.50 257.53,214.50 257.80,186.50 258.07,186.50 258.34,186.50 258.60,214.50 258.87,186.50 259.14,186.50 259.40,186.50 259.67,186.50 259.94,186.50 260.21,186.50 260.48,186.50 260.74,186.50 261.01,186.50 261.28,186.50 261.54,186.50 261.81,186.50 262.08,186.50 262.35,186.50 262.62,214.50 262.88,186.50 263.15,186.50 263.42,186.50 263.69,186.50 263.95,186.50 264.22,214.50 264.49,186.50 264.75,186.50 265.02,186.50 265.29,186.50 265.56,186.50 265.82,186.50 266.09,186.50 266.36,186.50 266.63,186.50 266.89,186.50 267.16,214.50 267.43,186.50 267.70,186.50 267.97,186.50 268.23,186.50 268.50,214.50 268.77,186.50 269.03,186.50 269.30,186.50 269.57,186.50 269.84,186.50 270.11,186.50 270.37,186.50 270.64,186.50 270.91,186.50 271.18,186.50 271.44,186.50 271.71,186.50 271.98,186.50 272.25,186.50 272.51,186.50 272.78,214.50 273.05,186.50 273.31,186.50 273.58,186.50 273.85,214.50 274.12,186.50 274.38,186.50 274.65,186.50 274.92,186.50 275.19,214.50 275.46,186.50 275.72,186.50 275.99,186.50 276.26,186.50 276.52,214.50 276.79,186.50 277.06,186.50 277.33,186.50 277.60,186.50 277.86,186.50 278.13,186.50 278.40,186.50 278.66,186.50 278.93,186.50 279.20,214.50 279.47,186.50 279.74,186.50 280.00,186.50 280.27,186.50 280.54,186.50 280.81,214.50 281.07,186.50 281.34,186.50 281.61,186.50 281.88,186.50 282.14,186.50 282.41,186.50 282.68,186.50 282.94,186.50 283.21,186.50 283.48,186.50 283.75,214.50 284.01,186.50 284.28,186.50 284.55,186.50 284.82,186.50 285.09,214.50 285.35,186.50 285.62,186.50 285.89,186.50 286.15,186.50 286.42,214.50 286.69,186.50 286.96,186.50 287.23,186.50 287.49,214.50 287.76,186.50 288.03,186.50 288.29,214.50 288.56,186.50 288.83,186.50 289.10,186.50 289.37,186.50 289.63,186.50 289.90,186.50 290.17,186.50 290.44,186.50 290.70,186.50 290.97,186.50 291.24,186.50 291.50,214.50 291.77,186.50 292.04,186.50 292.31,186.50 292.57,186.50 292.84,186.50 293.11,214.50 293.38,186.50 293.64,186.50 293.91,186.50 294.18,186.50 294.45,186.50 294.72,186.50 294.98,186.50 295.25,186.50 295.52,186.50 295.78,186.50 296.05,186.50 296.32,186.50 296.59,186.50 296.86,186.50 297.12,186.50 297.39,186.50 297.66,186.50 297.93,186.50 298.19,186.50 298.46,186.50 298.73,186.50 299.00,186.50 299.26,186.50 299.53,186.50 299.80,186.50 300.06,186.50 300.33,186.50 300.60,186.50 300.87,186.50 301.13,186.50 301.40,214.50 301.67,214.50 301.94,214.50 302.21,214.50 302.47,214.50 302.74,214.50 303.01,214.50 303.27,214.50 303.54,186.50 303.81,186.50 304.08,186.50 304.35,186.50 304.61,186.50 304.88,186.50 305.15,186.50 305.41,186.50 305.68,186.50 305.95,186.50 306.22,186.50 306.49,186.50 306.75,186.50 307.02,186.50 307.29,186.50 307.56,186.50 307.82,214.50 308.09,186.50 308.36,186.50 308.62,186.50 308.89,186.50 309.16,214.50 309.43,186.50 309.69,186.50 309.96,186.50 310.23,186.50 310.50,186.50 310.76,186.50 311.03,186.50 311.30,186.50 311.57,186.50 311.83,186.50 312.10,186.50 312.37,186.50 312.64,214.50 312.90,186.50 313.17,186.50 313.44,186.50 313.71,186.50 313.98,214.50 314.24,186.50 314.51,186.50 314.78,186.50 315.05,186.50 315.31,214.50 315.58,186.50 315.85,186.50 316.12,186.50 316.38,186.50 316.65,186.50 316.92,214.50 317.19,214.50 317.45,214.50 317.72,214.50 317.99,214.50 318.25,214.50 318.52,214.50 318.79,214.50 319.06,214.50 319.32,214.50 319.59,214.50 319.86,214.50 320.13,214.50 320.39,186.50 320.66,186.50 320.93,186.50 321.20,214.50 321.46,186.50 321.73,186.50 322.00,186.50 322.27,186.50 322.54,186.50 322.80,186.50 323.07,186.50 323.34,186.50 323.61,186.50 323.87,186.50 324.14,214.50 324.41,186.50 324.68,186.50 324.94,186.50 325.21,214.50 325.48,186.50 325.75,186.50 326.01,186.50 326.28,186.50 326.55,186.50 326.81,186.50 327.08,186.50 327.35,186.50 327.62,186.50 327.88,186.50 328.15,186.50 328.42,186.50 328.69,186.50 328.95,186.50 329.22,186.50 329.49,186.50 329.76,186.50 330.02,186.50 330.29,186.50 330.56,186.50 330.83,186.50 331.10,186.50 331.36,186.50 331.63,186.50 331.90,186.50 332.17,186.50 332.43,186.50 332.70,186.50 332.97,186.50 333.24,214.50 333.50,186.50 333.77,186.50 334.04,186.50 334.31,186.50 334.57,214.50 334.84,186.50 335.11,186.50 335.38,186.50 335.64,186.50 335.91,186.50 336.18,186.50 336.44,186.50 336.71,186.50 336.98,186.50 337.25,186.50 337.51,186.50 337.78,186.50 338.05,214.50 338.32,186.50 338.58,186.50 338.85,186.50 339.12,186.50 339.39,186.50 339.65,214.50 339.92,186.50 340.19,186.50 340.46,186.50 340.73,186.50 340.99,186.50 341.26,214.50 341.53,186.50 341.80,186.50 342.06,186.50 342.33,186.50 342.60,186.50 342.87,186.50 343.13,186.50 343.40,214.50 343.67,186.50 343.94,186.50 344.20,186.50 344.47,186.50 344.74,186.50 345.00,186.50 345.27,186.50 345.54,186.50 345.81,186.50 346.07,214.50 346.34,186.50 346.61,186.50 346.88,186.50 347.14,186.50 347.41,186.50 347.68,214.50 347.95,186.50 348.21,186.50 348.48,186.50 348.75,186.50 349.02,186.50 349.29,186.50 349.55,186.50 349.82,186.50 350.09,214.50 350.36,186.50 350.62,186.50 350.89,186.50 351.16,186.50 351.43,214.50 351.69,186.50 351.96,186.50 352.23,186.50 352.50,186.50 352.76,186.50 353.03,214.50 353.30,186.50 353.56,186.50 353.83,186.50 354.10,186.50 354.37,214.50 354.63,186.50 354.90,186.50 355.17,186.50 355.44,186.50 355.70,186.50 355.97,186.50 356.24,186.50 356.51,186.50 356.77,186.50 357.04,186.50 357.31,186.50 357.58,186.50 357.85,186.50 358.11,186.50 358.38,186.50 358.65,186.50 358.92,186.50 359.18,186.50 359.45,186.50 359.72,186.50 359.99,186.50 360.25,186.50 360.52,186.50 360.79,186.50 361.06,186.50 361.32,186.50 361.59,186.50 361.86,186.50 362.12,214.50 362.39,186.50 362.66,186.50 362.93,186.50 363.19,186.50 363.46,186.50 363.73,186.50 364.00,186.50 364.26,186.50 364.53,186.50 364.80,186.50 365.07,186.50 365.33,186.50 365.60,186.50 365.87,186.50 366.14,186.50 366.40,186.50 366.67,186.50 366.94,186.50 367.21,186.50 367.48,186.50 367.74,186.50 368.01,186.50 368.28,186.50 368.55,186.50 368.81,186.50 369.08,186.50 369.35,186.50 369.62,186.50 369.88,186.50 370.15,186.50 370.42,186.50 370.69,186.50 370.95,186.50 371.22,186.50 371.49,186.50 371.75,186.50 372.02,186.50 372.29,186.50 372.56,186.50 372.82,186.50 373.09,186.50 373.36,186.50 373.63,186.50 373.89,186.50 374.16,186.50 374.43,186.50 374.70,186.50 374.96,186.50 375.23,186.50 375.50,186.50 375.77,186.50 376.04,186.50 376.30,186.50 376.57,186.50 376.84,186.50 377.11,186.50 377.37,186.50 377.64,186.50 377.91,186.50 378.18,186.50 378.44,186.50 378.71,214.50 378.98,186.50 379.25,186.50 379.51,186.50 379.78,186.50 380.05,186.50 380.31,186.50 380.58,214.50 380.85,186.50 381.12,186.50 381.38,186.50 381.65,186.50 381.92,186.50 382.19,186.50 382.45,186.50 382.72,214.50 382.99,186.50 383.26,186.50 383.52,186.50 383.79,186.50 384.06,186.50 384.33,186.50 384.60,186.50 384.86,186.50 385.13,186.50 385.40,214.50 385.67,186.50 385.93,186.50 386.20,186.50 386.47,186.50 386.74,186.50 387.00,186.50 387.27,186.50 387.54,186.50 387.81,186.50 388.07,186.50 388.34,186.50 388.61,186.50 388.88,186.50 389.14,186.50 389.41,186.50 389.68,186.50 389.94,186.50 390.21,186.50 390.48,186.50 390.75,186.50 391.01,186.50 391.28,186.50 391.55,186.50 391.82,186.50 392.08,186.50 392.35,186.50 392.62,186.50 392.89,186.50 393.15,186.50 393.42,186.50 393.69,186.50 393.96,186.50 394.23,186.50 394.49,186.50 394.76,186.50 395.03,186.50 395.30,186.50 395.56,186.50 395.83,186.50 396.10,186.50 396.37,186.50 396.63,186.50 396.90,186.50 397.17,214.50 397.44,186.50 397.70,158.50 397.97,186.50 398.24,186.50 398.50,186.50 398.77,186.50 399.04,186.50 399.31,214.50 399.57,186.50 399.84,186.50 400.11,186.50 400.38,186.50 400.64,186.50 400.91,186.50 401.18,186.50 401.45,186.50 401.71,186.50 401.98,186.50 402.25,186.50 402.52,186.50 402.79,186.50 403.05,186.50 403.32,186.50 403.59,186.50 403.86,186.50 404.12,186.50 404.39,186.50 404.66,186.50 404.93,186.50 405.19,186.50 405.46,186.50 405.73,186.50 406.00,186.50 406.26,186.50 406.53,186.50 406.80,186.50 407.06,186.50 407.33,186.50 407.60,186.50 407.87,186.50 408.13,186.50 408.40,186.50 408.67,186.50 408.94,186.50 409.20,186.50 409.47,186.50 409.74,186.50 410.01,186.50 410.27,186.50 410.54,186.50 410.81,186.50 411.08,186.50 411.35,186.50 411.61,186.50 411.88,186.50 412.15,186.50 412.42,186.50 412.68,186.50 412.95,186.50 413.22,186.50 413.49,186.50 413.75,186.50 414.02,186.50 414.29,186.50 414.56,186.50 414.82,186.50 415.09,186.50 415.36,186.50 415.62,186.50 415.89,186.50 416.16,186.50 416.43,186.50 416.69,186.50 416.96,186.50 417.23,186.50 417.50,214.50 417.76,186.50 418.03,186.50 418.30,186.50 418.57,186.50 418.83,186.50 419.10,186.50 419.37,186.50 419.64,186.50 419.90,186.50 420.17,186.50 420.44,186.50 420.71,186.50 420.98,186.50 421.24,186.50 421.51,186.50 421.78,186.50 422.05,186.50 422.31,186.50 422.58,186.50 422.85,186.50 423.12,186.50 423.38,186.50 423.65,186.50 423.92,186.50 424.19,186.50 424.45,186.50 424.72,186.50 424.99,186.50 425.25,186.50 425.52,186.50 425.79,186.50 426.06,186.50 426.32,186.50 426.59,186.50 426.86,186.50 427.13,186.50 427.39,186.50 427.66,186.50 427.93,186.50 428.20,186.50 428.46,186.50 428.73,186.50 429.00,186.50 429.27,186.50 429.54,186.50 429.80,186.50 430.07,186.50 430.34,214.50 430.61,186.50 430.87,186.50 431.14,186.50 431.41,186.50 431.68,186.50 431.94,186.50 432.21,186.50 432.48,186.50 432.75,186.50 433.01,186.50 433.28,186.50 433.55,186.50 433.81,186.50 434.08,186.50 434.35,186.50 434.62,186.50 434.88,186.50 435.15,186.50 435.42,186.50 435.69,186.50 435.95,186.50 436.22,186.50 436.49,186.50 436.76,186.50 437.02,186.50 437.29,186.50 437.56,186.50 437.83,186.50 438.10,186.50 438.36,186.50 438.63,186.50 438.90,186.50 439.17,186.50 439.43,186.50 439.70,186.50 439.97,186.50 440.24,186.50 440.50,186.50 440.77,186.50 441.04,186.50 441.31,186.50 441.57,186.50 441.84,186.50 442.11,186.50 442.38,186.50 442.64,186.50 442.91,186.50 443.18,186.50 443.44,186.50 443.71,186.50 443.98,186.50 444.25,186.50 444.51,214.50 444.78,186.50 445.05,186.50 445.32,186.50 445.58,186.50 445.85,186.50 446.12,186.50 446.39,186.50 446.65,214.50 446.92,186.50 447.19,186.50 447.46,186.50 447.73,186.50 447.99,186.50 448.26,186.50 448.53,186.50 448.80,186.50 449.06,186.50 449.33,186.50 449.60,186.50 449.87,186.50 450.13,186.50 450.40,186.50 450.67,186.50 450.94,186.50 451.20,186.50 451.47,186.50 451.74,186.50 452.00,186.50 452.27,186.50 452.54,186.50 452.81,186.50 453.07,186.50 453.34,186.50 453.61,186.50 453.88,186.50 454.14,214.50 454.41,186.50 454.68,186.50 454.95,186.50 455.21,186.50 455.48,186.50 455.75,186.50 456.02,186.50 456.29,186.50 456.55,186.50 456.82,186.50 457.09,186.50 457.36,186.50 457.62,186.50 457.89,186.50 458.16,186.50 458.43,186.50 458.69,186.50 458.96,186.50 459.23,186.50 459.50,186.50 459.76,186.50 460.03,186.50 460.30,186.50 460.56,186.50 460.83,186.50 461.10,186.50 461.37,186.50 461.63,186.50 461.90,186.50 462.17,186.50 462.44,186.50 462.70,186.50 462.97,186.50 463.24,186.50 463.51,186.50 463.77,186.50 464.04,186.50 464.31,186.50 464.58,214.50 464.85,186.50 465.11,186.50 465.38,186.50 465.65,186.50 465.92,186.50 466.18,186.50 466.45,214.50 466.72,186.50 466.99,186.50 467.25,214.50 467.52,186.50 467.79,186.50 468.06,186.50 468.32,186.50 468.59,214.50 468.86,186.50 469.12,186.50 469.39,186.50 469.66,214.50 469.93,186.50 470.19,186.50 470.46,186.50 470.73,186.50 471.00,186.50 471.26,186.50 471.53,186.50 471.80,186.50 472.07,186.50 472.33,186.50 472.60,186.50 472.87,186.50 473.14,186.50 473.40,186.50 473.67,186.50 473.94,186.50 474.21,186.50 474.48,186.50 474.74,186.50 475.01,186.50 475.28,186.50 475.55,186.50 475.81,186.50 476.08,186.50 476.35,186.50 476.62,186.50 476.88,186.50 477.15,186.50 477.42,186.50 477.69,186.50 477.95,186.50 478.22,214.50 478.49,214.50 478.75,214.50 479.02,214.50 479.29,214.50 479.56,214.50 479.82,214.50 480.09,214.50 480.36,214.50 480.63,214.50 480.89,214.50 481.16,214.50 481.43,214.50 481.70,214.50 481.96,214.50 482.23,214.50 482.50,214.50 482.77,214.50 483.04,214.50 483.30,214.50 483.57,214.50 483.84,214.50 484.11,214.50 484.37,214.50 484.64,186.50 484.91,214.50 485.18,186.50 485.44,186.50 485.71,214.50 485.98,186.50 486.25,186.50 486.51,186.50 486.78,186.50 487.05,186.50 487.31,186.50 487.58,186.50 487.85,186.50 488.12,186.50 488.38,186.50 488.65,186.50 488.92,186.50 489.19,186.50 489.45,186.50 489.72,186.50 489.99,186.50 490.26,186.50 490.52,186.50 490.79,186.50 491.06,186.50 491.33,186.50 491.60,186.50 491.86,186.50 492.13,186.50 492.40,186.50 492.67,186.50 492.93,186.50 493.20,186.50 493.47,186.50 493.74,186.50 494.00,186.50 494.27,186.50 494.54,186.50 494.81,214.50 495.07,186.50 495.34,186.50 495.61,186.50 495.88,186.50 496.14,186.50 496.41,186.50 496.68,186.50 496.94,186.50 497.21,186.50 497.48,186.50 497.75,186.50 498.01,186.50 498.28,186.50 498.55,186.50 498.82,186.50 499.08,186.50 499.35,186.50 499.62,186.50 499.89,186.50 500.15,186.50 500.42,186.50 500.69,186.50 500.96,186.50 501.23,186.50 501.49,186.50 501.76,186.50 502.03,186.50 502.30,214.50 502.56,186.50 502.83,186.50 503.10,214.50 503.37,186.50 503.63,186.50 503.90,186.50 504.17,214.50 504.44,186.50 504.70,186.50 504.97,186.50 505.24,186.50 505.50,214.50 505.77,186.50 506.04,186.50 506.31,186.50 506.57,186.50 506.84,186.50 507.11,186.50 507.38,214.50 507.64,186.50 507.91,186.50 508.18,186.50 508.45,186.50 508.71,186.50 508.98,186.50 509.25,186.50 509.52,186.50 509.79,186.50 510.05,158.50 510.32,186.50 510.59,186.50 510.86,186.50 511.12,186.50 511.39,186.50 511.66,186.50 511.93,186.50 512.19,186.50 512.46,186.50 512.73,186.50 513.00,186.50 513.26,186.50 513.53,214.50 513.80,186.50 514.07,186.50 514.33,186.50 514.60,186.50 514.87,186.50 515.13,186.50 515.40,186.50 515.67,186.50 515.94,186.50 516.20,186.50 516.47,158.50 516.74,186.50 517.01,186.50 517.27,186.50 517.54,186.50 517.81,186.50 518.08,186.50 518.35,186.50 518.61,186.50 518.88,214.50 519.15,186.50 519.41,186.50 519.68,186.50 519.95,186.50 520.22,186.50 520.49,186.50 520.75,186.50 521.02,186.50 521.29,186.50 521.56,186.50 521.82,186.50 522.09,186.50 522.36,186.50 522.62,186.50 522.89,186.50 523.16,186.50 523.43,186.50 523.69,186.50 523.96,186.50 524.23,186.50 524.50,158.50 524.76,186.50 525.03,186.50 525.30,186.50 525.57,186.50 525.84,186.50 526.10,186.50 526.37,186.50 526.64,186.50 526.90,186.50 527.17,186.50 527.44,186.50 527.71,186.50 527.98,186.50 528.24,186.50 528.51,186.50 528.78,186.50 529.05,186.50 529.31,186.50 529.58,186.50 529.85,186.50 530.12,186.50 530.38,186.50 530.65,186.50 530.92,186.50 531.18,186.50 531.45,186.50 531.72,186.50 531.99,186.50 532.25,186.50 532.52,186.50 532.79,186.50 533.06,186.50 533.33,186.50 533.59,186.50 533.86,186.50 534.13,186.50 534.39,186.50 534.66,186.50 534.93,186.50 535.20,186.50 535.46,186.50 535.73,186.50 536.00,186.50 536.27,186.50 536.54,186.50 536.80,214.50 537.07,186.50 537.34,186.50 537.61,186.50 537.87,186.50 538.14,186.50 538.41,186.50 538.67,186.50 538.94,186.50 539.21,186.50 539.48,186.50 539.75,186.50 540.01,186.50 540.28,186.50 540.55,186.50 540.82,186.50 541.08,186.50 541.35,186.50 541.62,186.50 541.88,186.50 542.15,186.50 542.42,186.50 542.69,186.50 542.95,214.50 543.22,186.50 543.49,186.50 543.76,186.50 544.02,186.50 544.29,214.50 544.56,186.50 544.83,186.50 545.10,186.50 545.36,186.50 545.63,186.50 545.90,186.50 546.16,186.50 546.43,214.50 546.70,186.50 546.97,186.50 547.24,186.50 547.50,186.50 547.77,186.50 548.04,186.50 548.31,186.50 548.57,186.50 548.84,186.50 549.11,186.50 549.38,186.50 549.64,186.50 549.91,186.50 550.18,186.50 550.44,186.50 550.71,186.50 550.98,186.50 551.25,186.50 551.51,186.50 551.78,186.50 552.05,186.50 552.32,186.50 552.59,214.50 552.85,186.50 553.12,186.50 553.39,186.50 553.65,186.50 553.92,186.50 554.19,186.50 554.46,186.50 554.73,186.50 554.99,186.50 555.26,186.50 555.53,186.50 555.80,186.50 556.06,186.50 556.33,186.50 556.60,186.50 556.87,186.50 557.13,186.50 557.40,186.50 557.67,186.50 557.93,186.50 558.20,186.50 558.47,186.50 558.74,186.50 559.00,186.50 559.27,186.50 559.54,186.50 559.81,186.50 560.08,186.50 560.34,186.50 560.61,186.50 560.88,186.50 561.14,186.50 561.41,186.50 561.68,186.50 561.95,186.50 562.21,186.50 562.48,186.50 562.75,186.50 563.02,186.50 563.29,186.50 563.55,186.50 563.82,186.50 564.09,186.50 564.36,186.50 564.62,186.50 564.89,186.50 565.16,186.50 565.42,186.50 565.69,186.50 565.96,186.50 566.23,186.50 566.50,186.50 566.76,186.50 567.03,186.50 567.30,186.50 567.57,186.50 567.83,186.50 568.10,186.50 568.37,186.50 568.63,186.50 568.90,186.50 569.17,186.50 569.44,186.50 569.71,158.50 569.97,186.50 570.24,186.50 570.51,186.50 570.77,186.50 571.04,186.50 571.31,158.50 571.58,186.50 571.85,186.50 572.11,186.50 572.38,158.50 572.65,186.50 572.91,186.50 573.18,186.50 573.45,186.50 573.72,186.50 573.99,186.50 574.25,186.50 574.52,186.50 574.79,186.50 575.05,186.50 575.32,186.50 575.59,186.50 575.86,186.50 576.12,186.50 576.39,186.50 576.66,186.50 576.93,186.50 577.20,186.50 577.46,186.50 577.73,186.50 578.00,186.50 578.26,186.50 578.53,186.50 578.80,186.50 579.07,186.50 579.34,186.50 579.60,186.50 579.87,186.50 580.14,186.50 580.40,186.50 580.67,186.50 580.94,186.50 581.21,186.50 581.48,186.50 581.74,186.50 582.01,214.50 582.28,186.50 582.54,186.50 582.81,186.50 583.08,186.50 583.35,186.50 583.62,186.50 583.88,186.50 584.15,186.50 584.42,186.50 584.68,186.50 584.95,186.50 585.22,186.50 585.49,186.50 585.75,186.50 586.02,186.50 586.29,186.50 586.56,186.50 586.83,186.50 587.09,186.50 587.36,186.50 587.63,186.50 587.89,186.50 588.16,186.50 588.43,186.50 588.70,186.50 588.97,186.50 589.23,186.50 589.50,214.50" fill="none" stroke="#1f78b4" stroke-width="1.3" stroke-linejoin="round" clip-path="url(#c2)"/>
<polyline points="54.50,244.70 55.03,240.28 55.57,239.70 56.10,239.12 56.64,245.82 57.17,252.41 57.71,247.68 58.24,258.03 58.78,246.86 59.31,255.51 59.85,248.41 60.38,242.27 60.92,252.68 61.45,248.78 61.99,257.21 62.52,248.54 63.06,251.85 63.59,252.54 64.13,242.76 64.66,249.65 65.20,254.47 65.73,249.63 66.27,246.80 66.81,254.66 67.34,255.19 67.88,254.56 68.41,250.01 68.94,251.91 69.48,251.59 70.02,263.79 70.55,251.24 71.09,250.39 71.62,251.78 72.16,256.07 72.69,252.99 73.22,251.69 73.76,261.54 74.30,259.24 74.83,248.34 75.36,251.60 75.90,259.88 76.44,256.40 76.97,252.52 77.50,257.68 78.04,248.00 78.58,256.16 79.11,251.00 79.64,255.17 80.18,257.12 80.72,256.75 81.25,254.51 81.78,257.95 82.32,244.58 82.86,260.10 83.39,255.00 83.92,257.18 84.46,257.56 85.00,250.91 85.53,258.43 86.06,245.45 86.60,247.97 87.13,251.73 87.67,247.70 88.20,249.16 88.74,257.67 89.28,254.86 89.81,262.64 90.34,247.19 90.88,248.72 91.41,256.19 91.95,264.30 92.48,261.11 93.02,245.99 93.56,245.05 94.09,259.30 94.62,251.72 95.16,249.30 95.69,249.57 96.23,252.51 96.77,252.67 97.30,257.64 97.84,240.78 98.37,250.93 98.91,254.23 99.44,244.02 99.97,249.18 100.51,247.44 101.05,255.60 101.58,255.21 102.12,253.57 102.65,259.87 103.19,260.36 103.72,257.08 104.25,253.02 104.79,253.40 105.33,255.14 105.86,257.11 106.40,254.40 106.93,253.48 107.47,257.96 108.00,261.03 108.53,259.82 109.07,261.71 109.60,256.24 110.14,259.62 110.67,253.28 111.21,257.92 111.75,253.29 112.28,249.33 112.81,258.32 113.35,250.56 113.88,254.39 114.42,253.21 114.95,253.41 115.49,253.15 116.03,256.76 116.56,260.32 117.09,260.90 117.63,255.80 118.16,261.97 118.70,244.69 119.23,250.83 119.77,259.48 120.31,252.09 120.84,258.24 121.38,261.36 121.91,252.19 122.44,252.01 122.98,255.00 123.52,245.82 124.05,249.19 124.58,247.24 125.12,249.88 125.66,258.27 126.19,257.87 126.72,260.35 127.26,260.25 127.80,255.94 128.33,247.06 128.87,252.42 129.40,253.53 129.94,246.17 130.47,255.58 131.00,256.73 131.54,261.68 132.07,267.08 132.61,251.74 133.14,246.52 133.68,247.77 134.22,259.27 134.75,264.49 135.28,244.56 135.82,249.48 136.36,253.33 136.89,246.47 137.43,249.89 137.96,250.46 138.50,263.28 139.03,251.21 139.56,248.40 140.10,254.13 140.63,257.56 141.17,259.03 141.70,248.95 142.24,242.40 142.78,245.70 143.31,252.68 143.84,251.81 144.38,252.17 144.92,257.37 145.45,254.85 145.99,262.79 146.52,250.32 147.06,247.69 147.59,244.62 148.12,263.13 148.66,258.77 149.19,249.35 149.73,245.89 150.26,253.55 150.80,252.55 151.33,258.86 151.87,256.68 152.41,252.11 152.94,255.07 153.47,250.74 154.01,250.04 154.55,250.38 155.08,253.58 155.62,257.30 156.15,258.25 156.69,262.56 157.22,257.94 157.75,256.86 158.29,258.83 158.82,262.81 159.36,249.56 159.89,267.48 160.43,252.60 160.97,258.50 161.50,250.96 162.03,253.91 162.57,255.36 163.11,246.21 163.64,252.60 164.18,251.37 164.71,255.93 165.25,254.38 165.78,253.97 166.31,253.84 166.85,259.74 167.38,260.65 167.92,247.59 168.45,251.15 168.99,247.65 169.53,246.76 170.06,250.06 170.59,256.59 171.13,251.03 171.67,252.28 172.20,264.11 172.74,250.31 173.27,253.55 173.81,258.94 174.34,257.92 174.88,257.52 175.41,256.78 175.94,259.06 176.48,256.39 177.01,256.31 177.55,251.00 178.08,252.98 178.62,247.74 179.16,256.23 179.69,253.39 180.22,257.00 180.76,251.31 181.30,256.25 181.83,251.43 182.37,261.39 182.90,259.52 183.44,257.94 183.97,251.99 184.50,248.67 185.04,262.00 185.57,255.91 186.11,261.45 186.65,245.74 187.18,254.26 187.72,258.59 188.25,254.93 188.78,263.44 189.32,261.12 189.85,250.34 190.39,247.40 190.93,250.53 191.46,255.69 192.00,254.24 192.53,251.82 193.06,252.93 193.60,247.92 194.13,248.24 194.67,252.68 195.21,245.75 195.74,256.15 196.28,261.95 196.81,246.12 197.34,250.38 197.88,245.69 198.41,252.63 198.95,247.09 199.49,242.37 200.02,245.88 200.56,251.44 201.09,254.18 201.62,243.39 202.16,256.75 202.69,258.95 203.23,250.87 203.76,255.14 204.30,256.93 204.84,256.48 205.37,256.02 205.91,256.83 206.44,255.83 206.97,257.80 207.51,254.62 208.04,251.64 208.58,264.00 209.12,250.18 209.65,256.40 210.19,251.31 210.72,256.68 211.25,262.27 211.79,258.70 212.32,254.87 212.86,257.10 213.40,252.67 213.93,261.21 214.47,256.58 215.00,254.98 215.53,254.70 216.07,256.60 216.60,249.34 217.14,247.68 217.68,264.01 218.21,257.60 218.75,251.92 219.28,249.80 219.81,256.26 220.35,256.45 220.88,251.47 221.42,256.65 221.96,253.26 222.49,255.04 223.03,260.81 223.56,256.53 224.09,244.50 224.63,261.27 225.16,260.28 225.70,249.94 226.24,257.95 226.77,255.94 227.31,243.70 227.84,250.90 228.38,246.88 228.91,259.22 229.44,247.31 229.98,251.44 230.51,248.24 231.05,238.05 231.59,252.12 232.12,256.40 232.66,247.76 233.19,262.85 233.72,255.29 234.26,249.35 234.79,259.75 235.33,270.48 235.87,260.51 236.40,262.90 236.94,256.73 237.47,258.89 238.00,263.22 238.54,259.23 239.07,268.51 239.61,254.50 240.15,256.70 240.68,252.20 241.22,244.36 241.75,261.36 242.28,251.35 242.82,248.24 243.35,258.40 243.89,257.84 244.43,251.85 244.96,247.02 245.50,256.90 246.03,247.63 246.56,262.09 247.10,247.79 247.63,255.22 248.17,253.48 248.71,246.55 249.24,247.47 249.78,255.94 250.31,255.68 250.84,258.45 251.38,261.51 251.91,247.97 252.45,245.48 252.99,249.96 253.52,252.10 254.06,249.46 254.59,254.96 255.12,253.95 255.66,252.15 256.19,257.24 256.73,262.06 257.26,251.18 257.80,255.98 258.34,248.47 258.87,250.95 259.40,249.11 259.94,257.30 260.48,241.98 261.01,259.45 261.54,251.19 262.08,255.14 262.62,253.78 263.15,241.25 263.69,251.62 264.22,247.09 264.75,254.66 265.29,247.25 265.82,251.61 266.36,249.92 266.89,247.08 267.43,250.50 267.97,253.95 268.50,254.15 269.03,257.23 269.57,253.28 270.11,243.18 270.64,256.19 271.18,254.98 271.71,247.40 272.25,252.02 272.78,252.54 273.31,248.11 273.85,253.40 274.38,240.76 274.92,253.56 275.46,247.95 275.99,252.36 276.52,250.19 277.06,249.42 277.60,261.97 278.13,259.78 278.66,253.44 279.20,255.19 279.74,251.70 280.27,258.05 280.81,250.81 281.34,248.71 281.88,266.73 282.41,261.35 282.94,263.98 283.48,265.59 284.01,245.51 284.55,254.69 285.09,256.19 285.62,272.25 286.15,256.58 286.69,248.63 287.23,254.14 287.76,254.17 288.29,258.34 288.83,260.90 289.37,250.58 289.90,254.78 290.44,253.01 290.97,257.79 291.50,250.70 292.04,239.37 292.57,258.46 293.11,256.88 293.64,253.78 294.18,254.79 294.72,247.71 295.25,256.52 295.78,247.77 296.32,252.02 296.86,258.66 297.39,252.12 297.93,250.45 298.46,246.98 299.00,253.12 299.53,257.31 300.06,252.62 300.60,255.28 301.13,255.41 301.67,255.82 302.21,252.63 302.74,246.91 303.27,255.27 303.81,255.87 304.35,255.11 304.88,246.85 305.41,258.07 305.95,253.60 306.49,251.13 307.02,255.41 307.56,263.23 308.09,260.66 308.62,252.44 309.16,248.47 309.69,253.56 310.23,246.02 310.76,251.76 311.30,238.32 311.83,251.52 312.37,252.30 312.90,247.05 313.44,244.86 313.98,251.06 314.51,253.94 315.05,263.12 315.58,255.46 316.12,259.00 316.65,253.18 317.19,260.76 317.72,263.89 318.25,268.13 318.79,263.99 319.32,256.32 319.86,257.41 320.39,266.60 320.93,269.85 321.46,266.59 322.00,270.87 322.54,271.60 323.07,270.24 323.61,258.16 324.14,275.04 324.68,275.54 325.21,265.73 325.75,258.97 326.28,268.32 326.81,268.78 327.35,270.97 327.88,268.78 328.42,277.79 328.95,269.55 329.49,282.69 330.02,273.31 330.56,265.26 331.10,264.91 331.63,280.09 332.17,277.26 332.70,259.45 333.24,259.82 333.77,265.26 334.31,267.78 334.84,277.06 335.38,268.12 335.91,270.65 336.44,270.76 336.98,269.88 337.51,274.23 338.05,272.61 338.58,278.77 339.12,261.75 339.65,271.03 340.19,265.01 340.73,260.47 341.26,259.58 341.80,260.53 342.33,273.28 342.87,271.52 343.40,263.97 343.94,260.60 344.47,273.85 345.00,276.64 345.54,271.59 346.07,268.24 346.61,265.71 347.14,270.82 347.68,271.44 348.21,268.22 348.75,267.56 349.29,268.21 349.82,265.87 350.36,268.55 350.89,259.34 351.43,268.10 351.96,259.00 352.50,283.35 353.03,265.28 353.56,280.93 354.10,276.38 354.63,279.97 355.17,268.06 355.70,261.27 356.24,264.05 356.77,267.94 357.31,261.88 357.85,267.10 358.38,280.59 358.92,268.29 359.45,275.83 359.99,266.29 360.52,282.66 361.06,275.59 361.59,259.26 362.12,261.09 362.66,270.88 363.19,267.43 363.73,270.01 364.26,274.54 364.80,261.84 365.33,268.64 365.87,269.97 366.40,266.37 366.94,271.45 367.48,261.82 368.01,254.82 368.55,266.06 369.08,256.29 369.62,262.07 370.15,266.82 370.69,273.23 371.22,280.60 371.75,271.02 372.29,264.84 372.82,270.51 373.36,268.56 373.89,273.62 374.43,277.93 374.96,262.19 375.50,254.05 376.04,266.13 376.57,272.01 377.11,254.86 377.64,260.68 378.18,266.37 378.71,265.62 379.25,266.63 379.78,253.34 380.31,272.67 380.85,256.93 381.38,261.03 381.92,277.51 382.45,272.00 382.99,256.26 383.52,271.61 384.06,263.22 384.60,265.52 385.13,275.66 385.67,276.59 386.20,250.57 386.74,252.70 387.27,263.76 387.81,263.54 388.34,276.06 388.88,260.81 389.41,262.97 389.94,253.93 390.48,274.89 391.01,266.01 391.55,265.89 392.08,269.77 392.62,275.98 393.15,269.84 393.69,271.29 394.23,272.19 394.76,264.05 395.30,276.43 395.83,269.67 396.37,264.86 396.90,268.85 397.44,256.66 397.97,267.37 398.50,274.98 399.04,283.41 399.57,261.62 400.11,265.89 400.64,263.53 401.18,270.76 401.71,276.33 402.25,265.05 402.79,268.19 403.32,273.36 403.86,273.60 404.39,271.01 404.93,270.71 405.46,260.51 406.00,264.24 406.53,262.53 407.06,265.33 407.60,264.01 408.13,262.45 408.67,266.97 409.20,268.63 409.74,264.20 410.27,263.26 410.81,268.47 411.35,270.92 411.88,263.90 412.42,278.00 412.95,266.95 413.49,270.73 414.02,256.67 414.56,269.34 415.09,268.02 415.62,263.99 416.16,265.76 416.69,272.76 417.23,269.43 417.76,269.98 418.30,270.71 418.83,271.29 419.37,265.79 419.90,264.57 420.44,272.24 420.98,280.55 421.51,277.80 422.05,275.20 422.58,273.60 423.12,266.06 423.65,263.43 424.19,265.02 424.72,268.96 425.25,270.81 425.79,283.92 426.32,278.35 426.86,271.24 427.39,268.56 427.93,266.09 428.46,273.18 429.00,273.06 429.54,268.21 430.07,259.46 430.61,270.73 431.14,259.84 431.68,262.87 432.21,261.27 432.75,269.62 433.28,273.74 433.81,262.28 434.35,279.60 434.88,275.94 435.42,265.34 435.95,271.09 436.49,271.77 437.02,279.16 437.56,271.79 438.10,281.24 438.63,274.66 439.17,287.26 439.70,275.46 440.24,255.53 440.77,268.26 441.31,268.53 441.84,268.30 442.38,273.50 442.91,271.07 443.44,273.28 443.98,265.24 444.51,260.17 445.05,275.11 445.58,268.21 446.12,279.08 446.65,268.87 447.19,276.41 447.73,260.85 448.26,270.09 448.80,255.26 449.33,259.24 449.87,271.29 450.40,264.19 450.94,270.99 451.47,277.55 452.00,263.55 452.54,270.16 453.07,258.01 453.61,273.42 454.14,257.02 454.68,264.63 455.21,263.61 455.75,271.07 456.29,277.54 456.82,266.12 457.36,274.43 457.89,267.87 458.43,256.56 458.96,257.28 459.50,266.05 460.03,256.18 460.56,259.60 461.10,265.12 461.63,260.43 462.17,269.91 462.70,264.69 463.24,272.43 463.77,263.46 464.31,270.09 464.85,264.79 465.38,268.97 465.92,266.12 466.45,265.86 466.99,282.14 467.52,263.39 468.06,277.08 468.59,271.38 469.12,281.59 469.66,268.44 470.19,263.54 470.73,268.51 471.26,278.13 471.80,271.59 472.33,271.35 472.87,263.27 473.40,272.14 473.94,271.35 474.48,278.54 475.01,262.83 475.55,276.88 476.08,264.88 476.62,266.95 477.15,265.75 477.69,261.30 478.22,259.26 478.75,260.72 479.29,262.26 479.82,268.80 480.36,268.35 480.89,266.52 481.43,266.56 481.96,268.79 482.50,267.09 483.04,260.32 483.57,268.23 484.11,274.94 484.64,256.85 485.18,273.97 485.71,271.92 486.25,259.37 486.78,264.36 487.31,272.81 487.85,267.18 488.38,266.77 488.92,260.04 489.45,267.74 489.99,268.24 490.52,270.53 491.06,261.22 491.60,273.90 492.13,275.98 492.67,260.02 493.20,257.20 493.74,261.46 494.27,264.86 494.81,263.16 495.34,267.09 495.88,269.65 496.41,266.46 496.94,265.75 497.48,276.81 498.01,269.21 498.55,273.39 499.08,266.17 499.62,270.01 500.15,261.96 500.69,281.83 501.23,264.69 501.76,256.31 502.30,270.62 502.83,274.66 503.37,277.14 503.90,275.32 504.44,266.53 504.97,279.65 505.50,260.25 506.04,271.17 506.57,251.14 507.11,261.95 507.64,257.94 508.18,269.70 508.71,267.71 509.25,261.46 509.79,265.79 510.32,265.48 510.86,269.24 511.39,265.74 511.93,268.82 512.46,274.56 513.00,267.66 513.53,270.67 514.07,264.41 514.60,275.50 515.13,260.71 515.67,267.16 516.20,270.91 516.74,264.23 517.27,263.24 517.81,263.94 518.35,264.69 518.88,270.16 519.41,273.73 519.95,274.74 520.49,257.85 521.02,251.06 521.56,277.27 522.09,260.48 522.62,265.80 523.16,266.47 523.69,284.64 524.23,276.27 524.76,274.04 525.30,261.39 525.84,261.90 526.37,269.73 526.90,269.89 527.44,264.92 527.98,278.98 528.51,272.29 529.05,269.84 529.58,271.11 530.12,265.58 530.65,269.61 531.18,268.87 531.72,265.91 532.25,270.81 532.79,265.46 533.33,275.01 533.86,271.59 534.39,271.92 534.93,282.30 535.46,283.23 536.00,270.83 536.54,263.24 537.07,257.01 537.61,265.08 538.14,261.74 538.67,275.92 539.21,266.47 539.75,258.53 540.28,265.84 540.82,279.96 541.35,271.85 541.88,256.76 542.42,274.22 542.95,280.84 543.49,270.85 544.02,264.37 544.56,270.40 545.10,265.41 545.63,266.57 546.16,261.92 546.70,279.01 547.24,278.72 547.77,274.70 548.31,274.24 548.84,279.02 549.38,276.64 549.91,268.64 550.44,269.02 550.98,272.13 551.51,272.08 552.05,273.26 552.59,265.28 553.12,273.08 553.65,275.28 554.19,261.16 554.73,265.91 555.26,264.93 555.80,269.15 556.33,259.04 556.87,262.25 557.40,274.95 557.93,260.56 558.47,264.66 559.00,270.96 559.54,272.84 560.08,277.23 560.61,265.04 561.14,264.03 561.68,259.77 562.21,261.91 562.75,267.98 563.29,272.59 563.82,268.92 564.36,268.30 564.89,270.76 565.42,269.68 565.96,271.23 566.50,273.86 567.03,270.87 567.57,267.39 568.10,258.70 568.63,265.78 569.17,277.99 569.71,268.66 570.24,267.55 570.77,272.65 571.31,266.87 571.85,275.72 572.38,271.73 572.91,264.81 573.45,269.23 573.99,281.90 574.52,273.84 575.05,279.31 575.59,266.66 576.12,271.82 576.66,268.56 577.20,278.83 577.73,276.68 578.26,281.36 578.80,273.96 579.34,272.71 579.87,268.82 580.40,264.72 580.94,273.75 581.48,265.30 582.01,277.87 582.54,277.91 583.08,272.73 583.62,279.17 584.15,275.60 584.68,277.15 585.22,283.99 585.75,273.49 586.29,273.63 586.83,270.34 587.36,262.03 587.89,284.86 588.43,265.44 588.97,263.59 589.50,273.71" fill="none" stroke="#fdbf6f" stroke-width="1.5" stroke-linejoin="round" clip-path="url(#c3)"/>
<polyline points="54.50,343.98 55.03,346.68 55.57,337.18 56.10,349.35 56.64,344.86 57.17,343.51 57.71,344.56 58.24,344.30 58.78,347.18 59.31,350.70 59.85,350.03 60.38,350.34 60.92,343.01 61.45,343.54 61.99,353.67 62.52,351.93 63.06,355.95 63.59,352.97 64.13,345.95 64.66,353.48 65.20,351.51 65.73,350.32 66.27,347.45 66.81,350.82 67.34,351.08 67.88,355.14 68.41,353.42 68.94,358.70 69.48,350.35 70.02,353.54 70.55,352.82 71.09,347.66 71.62,345.84 72.16,352.06 72.69,349.67 73.22,346.62 73.76,347.48 74.30,343.13 74.83,345.14 75.36,341.51 75.90,342.96 76.44,343.66 76.97,337.58 77.50,339.54 78.04,333.28 78.58,337.43 79.11,335.76 79.64,341.57 80.18,343.91 80.72,344.79 81.25,345.44 81.78,351.30 82.32,352.28 82.86,344.55 83.39,352.91 83.92,344.35 84.46,348.23 85.00,350.74 85.53,352.36 86.06,349.37 86.60,351.12 87.13,352.34 87.67,347.31 88.20,344.91 88.74,346.53 89.28,344.82 89.81,339.77 90.34,340.81 90.88,341.48 91.41,340.88 91.95,341.48 92.48,340.59 93.02,346.77 93.56,345.22 94.09,345.65 94.62,347.27 95.16,348.86 95.69,352.24 96.23,347.35 96.77,347.48 97.30,349.94 97.84,346.89 98.37,353.26 98.91,351.74 99.44,350.58 99.97,347.57 100.51,349.91 101.05,350.49 101.58,348.32 102.12,345.55 102.65,340.78 103.19,348.94 103.72,344.51 104.25,342.67 104.79,347.95 105.33,345.92 105.86,340.25 106.40,344.65 106.93,344.28 107.47,348.50 108.00,339.44 108.53,344.44 109.07,345.73 109.60,351.25 110.14,343.77 110.67,338.37 111.21,343.88 111.75,349.69 112.28,351.97 112.81,355.12 113.35,350.52 113.88,346.35 114.42,351.42 114.95,348.22 115.49,347.29 116.03,347.66 116.56,351.35 117.09,344.06 117.63,343.55 118.16,347.15 118.70,347.69 119.23,345.83 119.77,346.16 120.31,350.71 120.84,354.32 121.38,352.86 121.91,353.30 122.44,355.63 122.98,344.73 123.52,345.60 124.05,347.51 124.58,345.27 125.12,345.26 125.66,347.98 126.19,342.98 126.72,345.11 127.26,339.58 127.80,342.59 128.33,349.60 128.87,343.14 129.40,345.51 129.94,346.32 130.47,342.06 131.00,344.97 131.54,343.28 132.07,344.31 132.61,339.53 133.14,336.44 133.68,337.94 134.22,340.23 134.75,344.51 135.28,342.93 135.82,343.09 136.36,344.58 136.89,349.47 137.43,344.88 137.96,352.10 138.50,343.87 139.03,346.43 139.56,351.60 140.10,351.06 140.63,347.20 141.17,350.12 141.70,348.51 142.24,353.64 142.78,352.78 143.31,348.91 143.84,352.60 144.38,350.29 144.92,351.37 145.45,351.79 145.99,349.38 146.52,352.15 147.06,351.86 147.59,351.35 148.12,353.12 148.66,348.31 149.19,344.03 149.73,346.92 150.26,348.86 150.80,348.02 151.33,349.53 151.87,350.00 152.41,346.77 152.94,346.53 153.47,343.67 154.01,350.55 154.55,346.81 155.08,344.60 155.62,344.91 156.15,347.57 156.69,354.28 157.22,352.16 157.75,343.86 158.29,348.49 158.82,349.33 159.36,350.08 159.89,348.78 160.43,345.23 160.97,348.19 161.50,344.78 162.03,339.11 162.57,343.75 163.11,343.55 163.64,348.53 164.18,348.59 164.71,341.60 165.25,345.26 165.78,344.99 166.31,340.11 166.85,338.13 167.38,344.40 167.92,345.14 168.45,342.80 168.99,336.02 169.53,345.14 170.06,344.05 170.59,343.72 171.13,346.20 171.67,344.29 172.20,350.37 172.74,349.28 173.27,347.78 173.81,350.07 174.34,348.67 174.88,343.51 175.41,347.51 175.94,346.10 176.48,341.59 177.01,344.68 177.55,347.18 178.08,342.77 178.62,348.20 179.16,348.08 179.69,340.60 180.22,342.30 180.76,345.85 181.30,337.79 181.83,336.11 182.37,337.77 182.90,334.86 183.44,335.08 183.97,340.20 184.50,338.34 185.04,340.62 185.57,341.78 186.11,338.16 186.65,340.37 187.18,340.52 187.72,339.63 188.25,339.48 188.78,343.55 189.32,343.37 189.85,346.76 190.39,350.77 190.93,352.68 191.46,345.34 192.00,345.22 192.53,346.20 193.06,346.48 193.60,348.15 194.13,341.13 194.67,341.88 195.21,343.54 195.74,346.82 196.28,347.44 196.81,339.94 197.34,342.62 197.88,340.85 198.41,346.29 198.95,345.09 199.49,342.13 200.02,340.93 200.56,343.44 201.09,345.25 201.62,339.27 202.16,340.30 202.69,341.31 203.23,341.01 203.76,342.29 204.30,338.27 204.84,339.82 205.37,335.25 205.91,342.41 206.44,345.91 206.97,336.06 207.51,340.22 208.04,344.72 208.58,340.99 209.12,334.99 209.65,344.40 210.19,335.69 210.72,344.25 211.25,338.26 211.79,338.26 212.32,340.99 212.86,341.22 213.40,343.60 213.93,343.68 214.47,341.98 215.00,347.18 215.53,345.90 216.07,345.16 216.60,345.39 217.14,345.32 217.68,346.05 218.21,349.09 218.75,349.15 219.28,346.49 219.81,348.11 220.35,342.53 220.88,343.27 221.42,343.13 221.96,335.31 222.49,336.54 223.03,342.25 223.56,334.02 224.09,340.95 224.63,334.05 225.16,338.92 225.70,334.39 226.24,336.48 226.77,337.91 227.31,338.01 227.84,343.65 228.38,343.74 228.91,344.52 229.44,343.01 229.98,347.87 230.51,345.79 231.05,343.40 231.59,338.87 232.12,344.29 232.66,344.05 233.19,342.13 233.72,343.88 234.26,341.87 234.79,336.25 235.33,336.82 235.87,333.93 236.40,331.62 236.94,328.82 237.47,328.61 238.00,330.65 238.54,335.03 239.07,338.07 239.61,329.64 240.15,328.88 240.68,332.59 241.22,332.43 241.75,335.20 242.28,339.23 242.82,335.36 243.35,338.99 243.89,338.32 244.43,339.39 244.96,339.12 245.50,335.24 246.03,339.06 246.56,330.20 247.10,332.68 247.63,332.35 248.17,333.21 248.71,335.47 249.24,333.17 249.78,341.70 250.31,342.31 250.84,341.37 251.38,343.76 251.91,337.42 252.45,329.74 252.99,334.57 253.52,333.03 254.06,329.91 254.59,323.46 255.12,326.43 255.66,334.36 256.19,331.98 256.73,332.51 257.26,330.45 257.80,333.99 258.34,335.38 258.87,333.34 259.40,329.27 259.94,331.12 260.48,327.05 261.01,329.57 261.54,333.16 262.08,330.32 262.62,332.02 263.15,338.06 263.69,333.31 264.22,336.28 264.75,332.89 265.29,330.23 265.82,333.86 266.36,332.70 266.89,327.45 267.43,330.09 267.97,333.77 268.50,340.98 269.03,335.66 269.57,338.57 270.11,341.87 270.64,341.98 271.18,341.17 271.71,347.93 272.25,346.39 272.78,334.00 273.31,344.41 273.85,342.70 274.38,343.69 274.92,340.48 275.46,342.49 275.99,346.25 276.52,345.83 277.06,346.34 277.60,344.26 278.13,344.11 278.66,344.43 279.20,338.15 279.74,347.96 280.27,340.27 280.81,339.32 281.34,337.44 281.88,337.33 282.41,328.52 282.94,337.92 283.48,335.12 284.01,337.95 284.55,337.12 285.09,339.51 285.62,347.06 286.15,342.72 286.69,343.02 287.23,341.88 287.76,337.81 288.29,338.32 288.83,335.65 289.37,337.78 289.90,331.16 290.44,336.42 290.97,340.01 291.50,340.40 292.04,339.65 292.57,337.04 293.11,331.72 293.64,338.26 294.18,337.69 294.72,337.55 295.25,333.52 295.78,339.29 296.32,343.20 296.86,341.74 297.39,339.32 297.93,342.43 298.46,341.36 299.00,342.57 299.53,345.35 300.06,344.41 300.60,344.20 301.13,345.85 301.67,341.27 302.21,339.76 302.74,343.52 303.27,339.15 303.81,341.86 304.35,333.29 304.88,342.00 305.41,338.03 305.95,344.57 306.49,332.32 307.02,335.77 307.56,346.50 308.09,343.46 308.62,344.86 309.16,345.18 309.69,345.96 310.23,347.84 310.76,343.59 311.30,346.93 311.83,352.27 312.37,349.38 312.90,347.50 313.44,347.22 313.98,345.83 314.51,337.46 315.05,333.12 315.58,330.84 316.12,328.22 316.65,328.80 317.19,322.29 317.72,322.40 318.25,323.21 318.79,312.43 319.32,319.67 319.86,322.80 320.39,323.18 320.93,322.85 321.46,328.94 322.00,332.46 322.54,329.74 323.07,331.16 323.61,334.69 324.14,343.01 324.68,344.09 325.21,341.10 325.75,338.31 326.28,338.61 326.81,342.45 327.35,341.14 327.88,340.52 328.42,333.59 328.95,334.32 329.49,333.94 330.02,324.55 330.56,338.35 331.10,333.98 331.63,334.93 332.17,330.22 332.70,332.21 333.24,337.58 333.77,334.69 334.31,321.62 334.84,330.59 335.38,326.75 335.91,324.01 336.44,319.53 336.98,324.95 337.51,323.25 338.05,328.03 338.58,333.17 339.12,330.26 339.65,332.17 340.19,328.65 340.73,327.10 341.26,331.12 341.80,335.10 342.33,336.73 342.87,331.99 343.40,333.13 343.94,331.19 344.47,327.11 345.00,333.01 345.54,333.99 346.07,331.83 346.61,333.00 347.14,328.20 347.68,334.54 348.21,339.17 348.75,335.09 349.29,337.47 349.82,337.34 350.36,332.70 350.89,334.98 351.43,330.90 351.96,342.03 352.50,332.56 353.03,327.63 353.56,325.40 354.10,336.50 354.63,336.88 355.17,339.37 355.70,336.93 356.24,339.84 356.77,337.49 357.31,344.62 357.85,339.18 358.38,346.74 358.92,341.99 359.45,339.04 359.99,344.44 360.52,333.84 361.06,338.27 361.59,340.03 362.12,345.12 362.66,345.53 363.19,343.62 363.73,337.17 364.26,341.15 364.80,339.32 365.33,346.83 365.87,341.43 366.40,344.73 366.94,348.77 367.48,342.61 368.01,345.24 368.55,342.05 369.08,343.70 369.62,343.96 370.15,344.15 370.69,344.59 371.22,343.39 371.75,350.89 372.29,343.11 372.82,346.24 373.36,344.77 373.89,338.76 374.43,349.36 374.96,347.26 375.50,342.39 376.04,342.88 376.57,338.06 377.11,342.13 377.64,344.22 378.18,341.12 378.71,331.10 379.25,327.73 379.78,333.90 380.31,338.49 380.85,334.15 381.38,338.24 381.92,331.31 382.45,336.30 382.99,337.02 383.52,332.52 384.06,331.34 384.60,332.48 385.13,326.52 385.67,323.57 386.20,327.36 386.74,325.38 387.27,322.82 387.81,328.80 388.34,327.02 388.88,332.27 389.41,331.61 389.94,332.14 390.48,332.01 391.01,336.56 391.55,337.19 392.08,344.82 392.62,339.42 393.15,333.88 393.69,343.44 394.23,328.92 394.76,339.35 395.30,329.94 395.83,335.77 396.37,329.36 396.90,332.85 397.44,332.54 397.97,333.43 398.50,336.78 399.04,334.40 399.57,339.32 400.11,335.66 400.64,338.47 401.18,341.30 401.71,344.72 402.25,351.04 402.79,343.54 403.32,341.34 403.86,338.37 404.39,338.54 404.93,339.51 405.46,333.24 406.00,332.91 406.53,330.18 407.06,330.54 407.60,322.04 408.13,328.61 408.67,329.26 409.20,324.59 409.74,328.00 410.27,326.28 410.81,333.35 411.35,333.13 411.88,341.34 412.42,332.01 412.95,329.16 413.49,329.71 414.02,326.52 414.56,330.50 415.09,330.11 415.62,332.93 416.16,333.15 416.69,332.41 417.23,339.74 417.76,336.55 418.30,336.02 418.83,328.27 419.37,328.02 419.90,327.30 420.44,326.76 420.98,319.69 421.51,331.05 422.05,329.91 422.58,336.68 423.12,339.83 423.65,342.01 424.19,338.26 424.72,336.83 425.25,332.47 425.79,334.44 426.32,338.86 426.86,326.81 427.39,329.31 427.93,331.39 428.46,334.64 429.00,324.90 429.54,325.93 430.07,326.81 430.61,335.21 431.14,321.45 431.68,325.49 432.21,330.51 432.75,328.00 433.28,333.62 433.81,335.83 434.35,334.66 434.88,336.12 435.42,339.69 435.95,333.76 436.49,331.18 437.02,329.33 437.56,331.65 438.10,333.41 438.63,331.26 439.17,332.50 439.70,340.70 440.24,330.50 440.77,330.20 441.31,334.56 441.84,331.93 442.38,333.38 442.91,334.44 443.44,330.55 443.98,327.71 444.51,328.93 445.05,327.75 445.58,326.78 446.12,326.30 446.65,331.34 447.19,329.63 447.73,327.68 448.26,334.59 448.80,331.82 449.33,332.48 449.87,336.56 450.40,332.25 450.94,334.46 451.47,332.15 452.00,330.68 452.54,336.77 453.07,340.93 453.61,332.36 454.14,338.06 454.68,336.95 455.21,337.55 455.75,328.51 456.29,329.04 456.82,335.59 457.36,331.67 457.89,334.49 458.43,339.46 458.96,341.83 459.50,337.09 460.03,336.83 460.56,338.21 461.10,335.70 461.63,331.18 462.17,336.26 462.70,333.56 463.24,329.92 463.77,331.02 464.31,337.57 464.85,328.77 465.38,338.67 465.92,338.21 466.45,337.28 466.99,341.59 467.52,339.08 468.06,347.21 468.59,336.10 469.12,337.29 469.66,330.99 470.19,338.58 470.73,333.83 471.26,336.79 471.80,340.59 472.33,340.58 472.87,338.74 473.40,339.76 473.94,332.66 474.48,329.50 475.01,326.01 475.55,331.04 476.08,332.09 476.62,317.72 477.15,311.73 477.69,309.81 478.22,316.91 478.75,314.08 479.29,324.31 479.82,326.43 480.36,322.22 480.89,322.58 481.43,324.39 481.96,330.27 482.50,334.20 483.04,327.47 483.57,326.78 484.11,333.11 484.64,334.70 485.18,335.43 485.71,329.52 486.25,332.64 486.78,332.38 487.31,322.21 487.85,325.43 488.38,330.92 488.92,333.98 489.45,332.35 489.99,330.48 490.52,336.77 491.06,333.94 491.60,334.41 492.13,336.97 492.67,329.26 493.20,329.15 493.74,322.62 494.27,327.06 494.81,320.50 495.34,320.93 495.88,331.99 496.41,328.86 496.94,331.74 497.48,324.94 498.01,336.80 498.55,338.10 499.08,332.52 499.62,332.36 500.15,331.81 500.69,337.46 501.23,329.74 501.76,336.53 502.30,342.60 502.83,337.40 503.37,344.00 503.90,338.02 504.44,336.84 504.97,340.59 505.50,337.31 506.04,337.72 506.57,335.98 507.11,333.28 507.64,335.97 508.18,338.55 508.71,339.07 509.25,334.72 509.79,335.27 510.32,330.65 510.86,332.38 511.39,331.78 511.93,332.23 512.46,333.93 513.00,335.94 513.53,339.78 514.07,339.42 514.60,339.67 515.13,335.21 515.67,337.40 516.20,339.72 516.74,339.48 517.27,341.08 517.81,332.72 518.35,338.49 518.88,337.91 519.41,336.03 519.95,334.85 520.49,338.50 521.02,337.68 521.56,340.09 522.09,332.58 522.62,336.51 523.16,344.66 523.69,340.12 524.23,335.16 524.76,334.82 525.30,329.93 525.84,336.81 526.37,335.06 526.90,334.23 527.44,337.04 527.98,336.48 528.51,340.97 529.05,340.59 529.58,344.54 530.12,339.71 530.65,339.23 531.18,337.46 531.72,337.48 532.25,333.69 532.79,342.65 533.33,342.61 533.86,340.67 534.39,341.79 534.93,339.61 535.46,340.71 536.00,335.14 536.54,339.46 537.07,334.21 537.61,337.35 538.14,336.99 538.67,335.30 539.21,331.32 539.75,337.16 540.28,334.62 540.82,328.20 541.35,324.37 541.88,327.06 542.42,332.13 542.95,323.65 543.49,332.80 544.02,330.38 544.56,330.08 545.10,335.12 545.63,332.33 546.16,331.41 546.70,336.73 547.24,328.03 547.77,338.45 548.31,330.92 548.84,331.23 549.38,339.10 549.91,344.34 550.44,337.44 550.98,330.61 551.51,326.09 552.05,333.50 552.59,332.48 553.12,330.35 553.65,332.24 554.19,331.30 554.73,336.92 555.26,334.78 555.80,335.19 556.33,329.69 556.87,338.25 557.40,333.44 557.93,340.10 558.47,337.39 559.00,330.79 559.54,335.88 560.08,332.88 560.61,338.15 561.14,337.53 561.68,335.13 562.21,324.54 562.75,323.76 563.29,314.26 563.82,322.48 564.36,323.55 564.89,327.86 565.42,329.91 565.96,336.01 566.50,332.76 567.03,332.92 567.57,337.57 568.10,332.56 568.63,330.74 569.17,329.21 569.71,333.99 570.24,335.84 570.77,340.00 571.31,339.43 571.85,344.16 572.38,342.03 572.91,347.79 573.45,342.45 573.99,344.62 574.52,343.56 575.05,338.03 575.59,345.34 576.12,340.61 576.66,344.99 577.20,335.87 577.73,336.47 578.26,336.13 578.80,336.90 579.34,341.47 579.87,342.73 580.40,339.49 580.94,340.99 581.48,339.39 582.01,343.37 582.54,342.76 583.08,340.94 583.62,342.67 584.15,346.72 584.68,344.01 585.22,337.81 585.75,342.63 586.29,343.03 586.83,347.23 587.36,344.23 587.89,342.26 588.43,331.44 588.97,337.57 589.50,329.48" fill="none" stroke="#a6cee3" stroke-width="1.5" stroke-linejoin="round" clip-path="url(#c4)"/>
<polyline points="54.50,403.25 55.03,407.05 55.57,408.66 56.10,395.38 56.64,406.85 57.17,401.20 57.71,400.49 58.24,409.03 58.78,399.65 59.31,393.18 59.85,397.86 60.38,393.55 60.92,388.89 61.45,399.55 61.99,404.19 62.52,387.84 63.06,400.50 63.59,403.35 64.13,403.09 64.66,393.59 65.20,398.94 65.73,400.29 66.27,404.49 66.81,393.62 67.34,403.50 67.88,408.48 68.41,387.45 68.94,401.84 69.48,391.78 70.02,399.68 70.55,397.12 71.09,409.70 71.62,402.96 72.16,407.14 72.69,395.46 73.22,404.19 73.76,411.38 74.30,398.11 74.83,405.80 75.36,405.36 75.90,401.73 76.44,393.57 76.97,402.84 77.50,400.13 78.04,405.59 78.58,407.29 79.11,412.43 79.64,397.37 80.18,407.04 80.72,406.93 81.25,402.81 81.78,405.92 82.32,403.08 82.86,406.34 83.39,404.83 83.92,398.41 84.46,402.16 85.00,406.20 85.53,396.65 86.06,398.67 86.60,410.12 87.13,404.77 87.67,398.03 88.20,397.74 88.74,410.73 89.28,405.79 89.81,389.80 90.34,404.06 90.88,396.27 91.41,400.57 91.95,391.27 92.48,398.96 93.02,396.55 93.56,393.42 94.09,407.02 94.62,418.62 95.16,407.20 95.69,403.64 96.23,393.93 96.77,399.35 97.30,397.16 97.84,389.07 98.37,404.14 98.91,401.65 99.44,397.02 99.97,391.49 100.51,403.69 101.05,410.85 101.58,403.33 102.12,398.60 102.65,405.51 103.19,395.75 103.72,386.88 104.25,411.55 104.79,413.86 105.33,401.02 105.86,402.17 106.40,412.79 106.93,395.67 107.47,401.97 108.00,407.51 108.53,413.79 109.07,397.72 109.60,396.04 110.14,402.46 110.67,398.06 111.21,411.58 111.75,397.85 112.28,402.64 112.81,403.03 113.35,400.14 113.88,390.58 114.42,409.36 114.95,403.85 115.49,406.50 116.03,406.16 116.56,398.54 117.09,398.62 117.63,398.60 118.16,409.07 118.70,399.09 119.23,386.76 119.77,398.21 120.31,395.40 120.84,407.26 121.38,398.02 121.91,404.02 122.44,401.61 122.98,402.88 123.52,395.98 124.05,398.11 124.58,400.90 125.12,404.60 125.66,404.60 126.19,394.29 126.72,398.86 127.26,407.74 127.80,406.86 128.33,398.58 128.87,398.08 129.40,411.52 129.94,407.38 130.47,391.08 131.00,414.37 131.54,407.55 132.07,404.10 132.61,398.75 133.14,394.28 133.68,396.75 134.22,396.04 134.75,393.51 135.28,387.51 135.82,409.44 136.36,411.23 136.89,406.48 137.43,403.03 137.96,397.72 138.50,398.27 139.03,401.05 139.56,395.84 140.10,403.04 140.63,401.54 141.17,399.56 141.70,402.71 142.24,402.27 142.78,408.13 143.31,400.69 143.84,395.21 144.38,403.20 144.92,410.42 145.45,414.72 145.99,409.12 146.52,394.34 147.06,396.32 147.59,391.36 148.12,401.58 148.66,400.78 149.19,395.23 149.73,411.68 150.26,408.90 150.80,400.24 151.33,407.68 151.87,389.31 152.41,403.96 152.94,403.54 153.47,417.16 154.01,412.59 154.55,407.65 155.08,401.04 155.62,399.59 156.15,404.54 156.69,401.53 157.22,398.06 157.75,410.61 158.29,400.29 158.82,390.88 159.36,403.73 159.89,399.03 160.43,403.24 160.97,408.16 161.50,394.68 162.03,389.42 162.57,394.17 163.11,406.36 163.64,414.10 164.18,413.57 164.71,400.39 165.25,401.60 165.78,404.62 166.31,397.16 166.85,401.47 167.38,400.65 167.92,409.18 168.45,399.74 168.99,414.02 169.53,408.64 170.06,403.60 170.59,391.37 171.13,402.18 171.67,402.47 172.20,411.10 172.74,405.30 173.27,416.75 173.81,402.86 174.34,391.17 174.88,404.58 175.41,393.38 175.94,401.81 176.48,397.31 177.01,409.18 177.55,396.93 178.08,406.68 178.62,391.13 179.16,407.58 179.69,395.08 180.22,403.31 180.76,409.36 181.30,399.69 181.83,401.05 182.37,410.47 182.90,403.88 183.44,402.89 183.97,410.77 184.50,406.30 185.04,401.98 185.57,404.51 186.11,388.15 186.65,383.31 187.18,393.65 187.72,404.51 188.25,396.20 188.78,397.66 189.32,403.37 189.85,406.68 190.39,406.60 190.93,398.65 191.46,405.04 192.00,401.08 192.53,402.77 193.06,409.90 193.60,419.54 194.13,392.03 194.67,396.65 195.21,391.05 195.74,393.56 196.28,409.76 196.81,420.42 197.34,410.63 197.88,399.14 198.41,391.05 198.95,388.08 199.49,408.49 200.02,408.91 200.56,400.71 201.09,410.27 201.62,407.27 202.16,410.04 202.69,400.51 203.23,411.28 203.76,393.63 204.30,403.81 204.84,412.12 205.37,400.76 205.91,404.67 206.44,403.98 206.97,400.55 207.51,397.13 208.04,395.04 208.58,400.60 209.12,418.01 209.65,401.10 210.19,399.49 210.72,409.49 211.25,385.83 211.79,393.50 212.32,397.55 212.86,402.41 213.40,398.18 213.93,399.62 214.47,397.07 215.00,398.17 215.53,401.72 216.07,393.71 216.60,412.61 217.14,389.59 217.68,406.34 218.21,407.79 218.75,402.92 219.28,406.41 219.81,392.51 220.35,407.30 220.88,403.24 221.42,405.55 221.96,408.33 222.49,407.35 223.03,411.96 223.56,406.02 224.09,411.44 224.63,396.35 225.16,408.27 225.70,391.10 226.24,397.05 226.77,381.44 227.31,399.54 227.84,412.47 228.38,390.52 228.91,395.43 229.44,398.02 229.98,395.53 230.51,411.15 231.05,394.23 231.59,416.09 232.12,411.90 232.66,400.83 233.19,412.70 233.72,404.90 234.26,399.04 234.79,402.06 235.33,409.15 235.87,402.49 236.40,400.62 236.94,400.34 237.47,396.19 238.00,404.88 238.54,402.98 239.07,395.50 239.61,398.54 240.15,400.65 240.68,391.99 241.22,402.46 241.75,397.30 242.28,405.19 242.82,397.63 243.35,403.18 243.89,401.35 244.43,402.15 244.96,403.81 245.50,409.46 246.03,407.04 246.56,399.95 247.10,395.80 247.63,414.10 248.17,401.07 248.71,399.02 249.24,392.77 249.78,398.56 250.31,388.92 250.84,397.78 251.38,404.29 251.91,399.80 252.45,415.55 252.99,407.40 253.52,413.32 254.06,396.13 254.59,392.87 255.12,393.52 255.66,404.69 256.19,392.38 256.73,402.60 257.26,399.65 257.80,408.51 258.34,397.95 258.87,398.31 259.40,407.69 259.94,390.37 260.48,403.46 261.01,402.97 261.54,399.53 262.08,400.24 262.62,408.79 263.15,409.58 263.69,410.67 264.22,410.68 264.75,398.85 265.29,406.54 265.82,403.13 266.36,416.48 266.89,408.74 267.43,404.82 267.97,395.19 268.50,405.04 269.03,405.07 269.57,401.12 270.11,390.10 270.64,401.24 271.18,412.76 271.71,402.98 272.25,402.53 272.78,404.39 273.31,408.92 273.85,402.55 274.38,404.17 274.92,387.05 275.46,394.49 275.99,391.64 276.52,406.11 277.06,400.46 277.60,404.83 278.13,385.46 278.66,389.25 279.20,399.14 279.74,403.72 280.27,413.08 280.81,409.66 281.34,396.47 281.88,392.79 282.41,389.29 282.94,410.60 283.48,407.60 284.01,401.53 284.55,409.30 285.09,404.14 285.62,395.43 286.15,412.47 286.69,389.38 287.23,405.73 287.76,402.23 288.29,397.19 288.83,405.31 289.37,394.49 289.90,412.85 290.44,402.56 290.97,387.51 291.50,397.17 292.04,402.99 292.57,397.83 293.11,395.76 293.64,399.07 294.18,403.00 294.72,408.61 295.25,406.22 295.78,405.50 296.32,403.29 296.86,409.79 297.39,404.94 297.93,395.87 298.46,410.95 299.00,404.89 299.53,399.16 300.06,407.67 300.60,406.48 301.13,401.17 301.67,393.23 302.21,402.04 302.74,401.34 303.27,398.41 303.81,397.73 304.35,401.16 304.88,403.15 305.41,407.31 305.95,401.84 306.49,393.28 307.02,398.04 307.56,400.37 308.09,400.05 308.62,396.26 309.16,412.56 309.69,398.34 310.23,390.88 310.76,391.00 311.30,402.42 311.83,392.65 312.37,401.60 312.90,401.84 313.44,397.68 313.98,399.10 314.51,405.00 315.05,400.06 315.58,403.25 316.12,390.29 316.65,409.01 317.19,387.09 317.72,410.03 318.25,409.23 318.79,410.56 319.32,400.28 319.86,402.59 320.39,398.64 320.93,406.47 321.46,404.27 322.00,408.64 322.54,407.40 323.07,411.59 323.61,408.11 324.14,414.56 324.68,402.61 325.21,411.55 325.75,417.61 326.28,416.43 326.81,406.83 327.35,411.27 327.88,403.30 328.42,409.20 328.95,404.60 329.49,404.43 330.02,414.34 330.56,405.90 331.10,420.00 331.63,415.40 332.17,399.23 332.70,424.73 333.24,407.85 333.77,401.23 334.31,403.68 334.84,404.51 335.38,406.68 335.91,406.67 336.44,413.01 336.98,411.07 337.51,400.24 338.05,399.30 338.58,392.98 339.12,412.99 339.65,400.82 340.19,407.98 340.73,407.20 341.26,401.30 341.80,408.29 342.33,405.61 342.87,401.46 343.40,410.97 343.94,402.53 344.47,407.72 345.00,411.04 345.54,420.11 346.07,407.83 346.61,405.60 347.14,408.82 347.68,399.82 348.21,415.16 348.75,405.92 349.29,404.63 349.82,410.87 350.36,397.92 350.89,398.79 351.43,410.96 351.96,420.49 352.50,394.42 353.03,407.03 353.56,416.23 354.10,407.02 354.63,406.64 355.17,415.30 355.70,413.00 356.24,410.39 356.77,397.71 357.31,407.08 357.85,412.76 358.38,406.00 358.92,406.32 359.45,403.93 359.99,407.37 360.52,403.08 361.06,411.51 361.59,411.00 362.12,412.29 362.66,401.23 363.19,393.96 363.73,411.31 364.26,401.03 364.80,412.43 365.33,412.06 365.87,408.32 366.40,393.36 366.94,408.89 367.48,409.62 368.01,422.59 368.55,414.40 369.08,406.75 369.62,396.12 370.15,415.87 370.69,401.13 371.22,402.97 371.75,410.06 372.29,407.13 372.82,414.67 373.36,406.94 373.89,414.93 374.43,413.41 374.96,399.56 375.50,397.60 376.04,408.01 376.57,413.42 377.11,420.28 377.64,403.15 378.18,399.73 378.71,415.20 379.25,407.71 379.78,413.71 380.31,400.98 380.85,416.56 381.38,404.16 381.92,410.68 382.45,405.41 382.99,406.28 383.52,419.96 384.06,408.06 384.60,421.05 385.13,421.32 385.67,415.91 386.20,407.08 386.74,392.59 387.27,389.99 387.81,411.21 388.34,397.19 388.88,403.28 389.41,402.41 389.94,411.74 390.48,401.35 391.01,413.23 391.55,421.09 392.08,421.92 392.62,408.75 393.15,402.34 393.69,405.17 394.23,420.65 394.76,398.12 395.30,395.00 395.83,398.44 396.37,427.41 396.90,413.43 397.44,404.92 397.97,404.47 398.50,415.74 399.04,402.25 399.57,398.88 400.11,402.89 400.64,405.26 401.18,404.30 401.71,416.68 402.25,424.79 402.79,413.74 403.32,402.40 403.86,396.57 404.39,409.45 404.93,405.43 405.46,402.63 406.00,412.95 406.53,396.37 407.06,404.16 407.60,397.01 408.13,406.19 408.67,405.08 409.20,416.06 409.74,417.51 410.27,420.69 410.81,417.31 411.35,406.31 411.88,411.43 412.42,406.70 412.95,419.83 413.49,398.78 414.02,427.50 414.56,420.40 415.09,414.63 415.62,416.10 416.16,401.40 416.69,419.81 417.23,403.60 417.76,414.75 418.30,414.22 418.83,410.01 419.37,403.13 419.90,415.94 420.44,403.98 420.98,409.23 421.51,414.09 422.05,411.70 422.58,417.27 423.12,410.99 423.65,416.19 424.19,411.26 424.72,400.45 425.25,396.09 425.79,421.13 426.32,416.61 426.86,395.29 427.39,410.35 427.93,409.09 428.46,403.30 429.00,414.51 429.54,419.90 430.07,415.96 430.61,417.20 431.14,399.54 431.68,408.26 432.21,403.94 432.75,399.34 433.28,408.84 433.81,415.51 434.35,392.45 434.88,426.48 435.42,403.70 435.95,409.30 436.49,413.10 437.02,398.95 437.56,398.38 438.10,413.41 438.63,410.07 439.17,418.74 439.70,410.06 440.24,409.38 440.77,423.98 441.31,404.00 441.84,399.90 442.38,412.96 442.91,413.42 443.44,403.40 443.98,412.91 444.51,411.68 445.05,416.61 445.58,412.53 446.12,419.90 446.65,415.79 447.19,419.43 447.73,415.78 448.26,409.74 448.80,413.74 449.33,405.00 449.87,408.23 450.40,407.29 450.94,411.33 451.47,401.70 452.00,398.75 452.54,411.65 453.07,392.18 453.61,415.39 454.14,413.55 454.68,407.74 455.21,408.38 455.75,408.83 456.29,406.20 456.82,404.57 457.36,406.14 457.89,410.67 458.43,401.92 458.96,402.24 459.50,409.45 460.03,396.79 460.56,404.25 461.10,414.00 461.63,399.41 462.17,407.61 462.70,407.54 463.24,413.21 463.77,398.64 464.31,407.77 464.85,410.16 465.38,397.10 465.92,405.68 466.45,407.39 466.99,401.28 467.52,402.66 468.06,402.95 468.59,410.73 469.12,398.23 469.66,413.24 470.19,414.44 470.73,407.19 471.26,421.88 471.80,409.76 472.33,419.69 472.87,409.80 473.40,409.06 473.94,410.46 474.48,420.07 475.01,412.08 475.55,411.51 476.08,406.77 476.62,407.10 477.15,399.89 477.69,409.26 478.22,404.60 478.75,418.16 479.29,404.93 479.82,415.50 480.36,418.75 480.89,407.81 481.43,414.69 481.96,408.02 482.50,404.41 483.04,406.31 483.57,406.29 484.11,414.18 484.64,415.45 485.18,403.86 485.71,406.19 486.25,415.73 486.78,411.46 487.31,407.40 487.85,395.90 488.38,415.61 488.92,400.64 489.45,408.20 489.99,411.00 490.52,411.77 491.06,409.69 491.60,407.86 492.13,413.79 492.67,407.64 493.20,410.23 493.74,409.03 494.27,416.65 494.81,408.58 495.34,397.47 495.88,403.25 496.41,410.17 496.94,399.71 497.48,422.38 498.01,411.24 498.55,403.83 499.08,417.54 499.62,416.48 500.15,403.01 500.69,401.21 501.23,410.68 501.76,404.90 502.30,398.27 502.83,415.74 503.37,408.80 503.90,417.80 504.44,412.91 504.97,406.82 505.50,403.07 506.04,411.12 506.57,420.19 507.11,413.68 507.64,411.59 508.18,397.20 508.71,409.58 509.25,412.31 509.79,416.90 510.32,412.67 510.86,405.07 511.39,413.75 511.93,426.30 512.46,407.91 513.00,407.05 513.53,400.29 514.07,414.61 514.60,410.10 515.13,405.09 515.67,418.97 516.20,407.30 516.74,400.15 517.27,414.28 517.81,403.80 518.35,400.01 518.88,418.75 519.41,389.76 519.95,394.47 520.49,407.63 521.02,423.47 521.56,407.61 522.09,412.41 522.62,404.96 523.16,398.52 523.69,388.00 524.23,410.80 524.76,414.92 525.30,408.82 525.84,409.77 526.37,419.13 526.90,404.80 527.44,414.39 527.98,412.45 528.51,398.98 529.05,399.15 529.58,420.76 530.12,413.03 530.65,408.15 531.18,409.16 531.72,397.32 532.25,421.75 532.79,417.92 533.33,396.63 533.86,411.87 534.39,397.38 534.93,416.05 535.46,410.57 536.00,397.92 536.54,397.41 537.07,408.38 537.61,403.17 538.14,423.60 538.67,408.26 539.21,400.17 539.75,410.22 540.28,415.95 540.82,407.01 541.35,410.22 541.88,404.21 542.42,397.51 542.95,403.13 543.49,414.53 544.02,409.22 544.56,411.93 545.10,405.46 545.63,408.94 546.16,412.58 546.70,419.43 547.24,412.25 547.77,394.19 548.31,400.35 548.84,410.75 549.38,413.27 549.91,398.68 550.44,402.46 550.98,396.56 551.51,401.36 552.05,406.26 552.59,408.73 553.12,412.57 553.65,405.92 554.19,415.20 554.73,422.15 555.26,419.16 555.80,418.97 556.33,408.49 556.87,399.78 557.40,402.65 557.93,403.24 558.47,393.08 559.00,400.62 559.54,420.36 560.08,418.87 560.61,407.62 561.14,420.19 561.68,410.76 562.21,423.87 562.75,410.67 563.29,409.50 563.82,409.41 564.36,407.15 564.89,420.20 565.42,398.32 565.96,404.80 566.50,410.15 567.03,415.95 567.57,410.82 568.10,406.53 568.63,387.65 569.17,400.32 569.71,412.11 570.24,400.23 570.77,405.48 571.31,418.65 571.85,400.88 572.38,416.35 572.91,415.26 573.45,408.95 573.99,415.54 574.52,428.76 575.05,410.54 575.59,405.38 576.12,408.42 576.66,395.21 577.20,411.77 577.73,416.04 578.26,400.79 578.80,408.36 579.34,407.89 579.87,408.12 580.40,403.79 580.94,405.30 581.48,415.68 582.01,407.03 582.54,408.04 583.08,411.00 583.62,415.37 584.15,411.99 584.68,419.20 585.22,413.76 585.75,414.13 586.29,403.28 586.83,412.14 587.36,401.29 587.89,412.41 588.43,403.42 588.97,411.30 589.50,401.71" fill="none" stroke="#b15928" stroke-width="1.5" stroke-linejoin="round" clip-path="url(#c5)"/>
<rect x="596.55" y="13.3" width="19.8" height="3.4" fill="#1f78b4"/>
<rect x="596.55" y="18.5" width="58.5" height="3.5" fill="#1f78b4"/>
<rect x="596.55" y="24.1" width="32.0" height="3.5" fill="#1f78b4"/>
<rect x="596.55" y="29.8" width="4.0" height="3.3" fill="#1f78b4"/>
<rect x="596.55" y="45.9" width="4.2" height="3.5" fill="#1f78b4"/>
<rect x="596.55" y="52.0" width="71.2" height="3.4" fill="#1f78b4"/>
<rect x="596.55" y="57.4" width="36.4" height="3.5" fill="#1f78b4"/>
<rect x="596.55" y="86.3" width="11.5" height="3.4" fill="#b2df8a"/>
<rect x="596.55" y="92.0" width="70.5" height="3.5" fill="#b2df8a"/>
<rect x="596.55" y="97.6" width="71.2" height="3.4" fill="#b2df8a"/>
<rect x="596.55" y="103.1" width="23.2" height="3.5" fill="#b2df8a"/>
<rect x="596.55" y="108.7" width="10.0" height="3.5" fill="#b2df8a"/>
<rect x="596.55" y="114.1" width="31.1" height="3.5" fill="#b2df8a"/>
<rect x="596.55" y="119.7" width="61.5" height="3.4" fill="#b2df8a"/>
<rect x="596.55" y="125.1" width="54.0" height="3.5" fill="#b2df8a"/>
<rect x="596.55" y="130.7" width="20.6" height="3.4" fill="#b2df8a"/>
<rect x="596.55" y="136.2" width="3.7" height="3.5" fill="#b2df8a"/>
<rect x="596.55" y="159.6" width="1.0" height="3.4" fill="#1f78b4"/>
<rect x="596.55" y="181.8" width="71.2" height="3.5" fill="#1f78b4"/>
<rect x="596.55" y="209.7" width="14.2" height="3.4" fill="#1f78b4"/>
<rect x="596.55" y="238.3" width="6.6" height="3.5" fill="#fdbf6f"/>
<rect x="596.55" y="244.0" width="24.5" height="3.5" fill="#fdbf6f"/>
<rect x="596.55" y="249.6" width="54.9" height="3.4" fill="#fdbf6f"/>
<rect x="596.55" y="255.1" width="71.2" height="3.5" fill="#fdbf6f"/>
<rect x="596.55" y="260.9" width="59.7" height="3.4" fill="#fdbf6f"/>
<rect x="596.55" y="266.4" width="62.2" height="3.5" fill="#fdbf6f"/>
<rect x="596.55" y="271.8" width="43.1" height="3.5" fill="#fdbf6f"/>
<rect x="596.55" y="277.4" width="19.8" height="3.5" fill="#fdbf6f"/>
<rect x="596.55" y="283.0" width="5.5" height="3.5" fill="#fdbf6f"/>
<rect x="596.55" y="312.0" width="1.0" height="3.4" fill="#a6cee3"/>
<rect x="596.55" y="317.3" width="5.5" height="3.5" fill="#a6cee3"/>
<rect x="596.55" y="323.0" width="17.2" height="3.5" fill="#a6cee3"/>
<rect x="596.55" y="328.6" width="38.6" height="3.4" fill="#a6cee3"/>
<rect x="596.55" y="334.0" width="58.5" height="3.5" fill="#a6cee3"/>
<rect x="596.55" y="339.6" width="71.2" height="3.5" fill="#a6cee3"/>
<rect x="596.55" y="345.1" width="60.5" height="3.5" fill="#a6cee3"/>
<rect x="596.55" y="350.7" width="25.4" height="3.5" fill="#a6cee3"/>
<rect x="596.55" y="356.1" width="6.2" height="3.5" fill="#a6cee3"/>
<rect x="596.55" y="379.8" width="0.7" height="2.7" fill="#b15928"/>
<rect x="596.55" y="385.0" width="4.5" height="3.5" fill="#b15928"/>
<rect x="596.55" y="391.0" width="19.1" height="3.4" fill="#b15928"/>
<rect x="596.55" y="396.4" width="52.5" height="3.4" fill="#b15928"/>
<rect x="596.55" y="402.0" width="71.2" height="3.5" fill="#b15928"/>
<rect x="596.55" y="407.6" width="67.2" height="3.4" fill="#b15928"/>
<rect x="596.55" y="413.2" width="32.2" height="3.5" fill="#b15928"/>
<rect x="596.55" y="418.6" width="15.5" height="3.5" fill="#b15928"/>
<rect x="596.55" y="424.2" width="5.5" height="3.5" fill="#b15928"/>
<rect x="596.55" y="429.8" width="0.7" height="2.7" fill="#b15928"/>
<rect x="54.85" y="9.45" width="535.6" height="61.05" fill="none" stroke="#000" stroke-width="0.7"/>
<rect x="596.55" y="9.45" width="74.80000000000007" height="61.05" fill="none" stroke="#000" stroke-width="0.7"/>
<line x1="54.5" y1="70.5" x2="54.5" y2="73.7" stroke="#000" stroke-width="0.7"/>
<line x1="121.5" y1="70.5" x2="121.5" y2="73.7" stroke="#000" stroke-width="0.7"/>
<line x1="188.5" y1="70.5" x2="188.5" y2="73.7" stroke="#000" stroke-width="0.7"/>
<line x1="255.5" y1="70.5" x2="255.5" y2="73.7" stroke="#000" stroke-width="0.7"/>
<line x1="322.5" y1="70.5" x2="322.5" y2="73.7" stroke="#000" stroke-width="0.7"/>
<line x1="388.5" y1="70.5" x2="388.5" y2="73.7" stroke="#000" stroke-width="0.7"/>
<line x1="455.5" y1="70.5" x2="455.5" y2="73.7" stroke="#000" stroke-width="0.7"/>
<line x1="522.5" y1="70.5" x2="522.5" y2="73.7" stroke="#000" stroke-width="0.7"/>
<line x1="589.5" y1="70.5" x2="589.5" y2="73.7" stroke="#000" stroke-width="0.7"/>
<line x1="51.65" y1="27.5" x2="54.85" y2="27.5" stroke="#000" stroke-width="0.7"/>
<line x1="593.3499999999999" y1="27.5" x2="596.55" y2="27.5" stroke="#000" stroke-width="0.7"/>
<text x="48.4" y="30.40" text-anchor="end" font-size="7.9" textLength="11.0" lengthAdjust="spacingAndGlyphs" fill="#222" stroke="#222" stroke-width="0.12" >0.8</text>
<line x1="51.65" y1="47.5" x2="54.85" y2="47.5" stroke="#000" stroke-width="0.7"/>
<line x1="593.3499999999999" y1="47.5" x2="596.55" y2="47.5" stroke="#000" stroke-width="0.7"/>
<text x="48.4" y="50.40" text-anchor="end" font-size="7.9" textLength="11.0" lengthAdjust="spacingAndGlyphs" fill="#222" stroke="#222" stroke-width="0.12" >0.4</text>
<line x1="51.65" y1="67.5" x2="54.85" y2="67.5" stroke="#000" stroke-width="0.7"/>
<line x1="593.3499999999999" y1="67.5" x2="596.55" y2="67.5" stroke="#000" stroke-width="0.7"/>
<text x="48.4" y="70.40" text-anchor="end" font-size="7.9" textLength="11.0" lengthAdjust="spacingAndGlyphs" fill="#222" stroke="#222" stroke-width="0.12" >0.0</text>
<text transform="translate(25.9,39.98) rotate(-90)" text-anchor="middle" font-size="8.6" textLength="39.4" lengthAdjust="spacingAndGlyphs" fill="#222" stroke="#222" stroke-width="0.1" >RMSD (<tspan dx="0.6" font-style="italic">Å</tspan><tspan dx="0.5">)</tspan></text>
<rect x="54.85" y="82.75" width="535.6" height="61.05" fill="none" stroke="#000" stroke-width="0.7"/>
<rect x="596.55" y="82.75" width="74.80000000000007" height="61.05" fill="none" stroke="#000" stroke-width="0.7"/>
<line x1="54.5" y1="143.8" x2="54.5" y2="147.0" stroke="#000" stroke-width="0.7"/>
<line x1="121.5" y1="143.8" x2="121.5" y2="147.0" stroke="#000" stroke-width="0.7"/>
<line x1="188.5" y1="143.8" x2="188.5" y2="147.0" stroke="#000" stroke-width="0.7"/>
<line x1="255.5" y1="143.8" x2="255.5" y2="147.0" stroke="#000" stroke-width="0.7"/>
<line x1="322.5" y1="143.8" x2="322.5" y2="147.0" stroke="#000" stroke-width="0.7"/>
<line x1="388.5" y1="143.8" x2="388.5" y2="147.0" stroke="#000" stroke-width="0.7"/>
<line x1="455.5" y1="143.8" x2="455.5" y2="147.0" stroke="#000" stroke-width="0.7"/>
<line x1="522.5" y1="143.8" x2="522.5" y2="147.0" stroke="#000" stroke-width="0.7"/>
<line x1="589.5" y1="143.8" x2="589.5" y2="147.0" stroke="#000" stroke-width="0.7"/>
<line x1="51.65" y1="98.5" x2="54.85" y2="98.5" stroke="#000" stroke-width="0.7"/>
<line x1="593.3499999999999" y1="98.5" x2="596.55" y2="98.5" stroke="#000" stroke-width="0.7"/>
<text x="48.4" y="101.40" text-anchor="end" font-size="7.9" textLength="15.3" lengthAdjust="spacingAndGlyphs" fill="#222" stroke="#222" stroke-width="0.12" >3.76</text>
<line x1="51.65" y1="117.5" x2="54.85" y2="117.5" stroke="#000" stroke-width="0.7"/>
<line x1="593.3499999999999" y1="117.5" x2="596.55" y2="117.5" stroke="#000" stroke-width="0.7"/>
<text x="48.4" y="120.40" text-anchor="end" font-size="7.9" textLength="15.3" lengthAdjust="spacingAndGlyphs" fill="#222" stroke="#222" stroke-width="0.12" >3.68</text>
<line x1="51.65" y1="136.5" x2="54.85" y2="136.5" stroke="#000" stroke-width="0.7"/>
<line x1="593.3499999999999" y1="136.5" x2="596.55" y2="136.5" stroke="#000" stroke-width="0.7"/>
<text x="48.4" y="139.40" text-anchor="end" font-size="7.9" textLength="15.3" lengthAdjust="spacingAndGlyphs" fill="#222" stroke="#222" stroke-width="0.12" >3.60</text>
<text transform="translate(25.9,113.28) rotate(-90)" text-anchor="middle" font-size="8.6" textLength="33.6" lengthAdjust="spacingAndGlyphs" fill="#222" stroke="#222" stroke-width="0.1" >rGyr (<tspan dx="0.6" font-style="italic">Å</tspan><tspan dx="0.5">)</tspan></text>
<rect x="54.85" y="156.04999999999998" width="535.6" height="61.05" fill="none" stroke="#000" stroke-width="0.7"/>
<rect x="596.55" y="156.04999999999998" width="74.80000000000007" height="61.05" fill="none" stroke="#000" stroke-width="0.7"/>
<line x1="54.5" y1="217.1" x2="54.5" y2="220.29999999999998" stroke="#000" stroke-width="0.7"/>
<line x1="121.5" y1="217.1" x2="121.5" y2="220.29999999999998" stroke="#000" stroke-width="0.7"/>
<line x1="188.5" y1="217.1" x2="188.5" y2="220.29999999999998" stroke="#000" stroke-width="0.7"/>
<line x1="255.5" y1="217.1" x2="255.5" y2="220.29999999999998" stroke="#000" stroke-width="0.7"/>
<line x1="322.5" y1="217.1" x2="322.5" y2="220.29999999999998" stroke="#000" stroke-width="0.7"/>
<line x1="388.5" y1="217.1" x2="388.5" y2="220.29999999999998" stroke="#000" stroke-width="0.7"/>
<line x1="455.5" y1="217.1" x2="455.5" y2="220.29999999999998" stroke="#000" stroke-width="0.7"/>
<line x1="522.5" y1="217.1" x2="522.5" y2="220.29999999999998" stroke="#000" stroke-width="0.7"/>
<line x1="589.5" y1="217.1" x2="589.5" y2="220.29999999999998" stroke="#000" stroke-width="0.7"/>
<line x1="51.65" y1="158.5" x2="54.85" y2="158.5" stroke="#000" stroke-width="0.7"/>
<line x1="593.3499999999999" y1="158.5" x2="596.55" y2="158.5" stroke="#000" stroke-width="0.7"/>
<text x="48.4" y="161.40" text-anchor="end" font-size="7.9" textLength="4.3" lengthAdjust="spacingAndGlyphs" fill="#222" stroke="#222" stroke-width="0.12" >2</text>
<line x1="51.65" y1="186.5" x2="54.85" y2="186.5" stroke="#000" stroke-width="0.7"/>
<line x1="593.3499999999999" y1="186.5" x2="596.55" y2="186.5" stroke="#000" stroke-width="0.7"/>
<text x="48.4" y="189.40" text-anchor="end" font-size="7.9" textLength="4.3" lengthAdjust="spacingAndGlyphs" fill="#222" stroke="#222" stroke-width="0.12" >1</text>
<line x1="51.65" y1="214.5" x2="54.85" y2="214.5" stroke="#000" stroke-width="0.7"/>
<line x1="593.3499999999999" y1="214.5" x2="596.55" y2="214.5" stroke="#000" stroke-width="0.7"/>
<text x="48.4" y="217.40" text-anchor="end" font-size="7.9" textLength="4.3" lengthAdjust="spacingAndGlyphs" fill="#222" stroke="#222" stroke-width="0.12" >0</text>
<text transform="translate(25.9,186.57) rotate(-90)" text-anchor="middle" font-size="8.6" textLength="31.8" lengthAdjust="spacingAndGlyphs" fill="#222" stroke="#222" stroke-width="0.1" >intraHB</text>
<rect x="54.85" y="229.34999999999997" width="535.6" height="61.05" fill="none" stroke="#000" stroke-width="0.7"/>
<rect x="596.55" y="229.34999999999997" width="74.80000000000007" height="61.05" fill="none" stroke="#000" stroke-width="0.7"/>
<line x1="54.5" y1="290.4" x2="54.5" y2="293.59999999999997" stroke="#000" stroke-width="0.7"/>
<line x1="121.5" y1="290.4" x2="121.5" y2="293.59999999999997" stroke="#000" stroke-width="0.7"/>
<line x1="188.5" y1="290.4" x2="188.5" y2="293.59999999999997" stroke="#000" stroke-width="0.7"/>
<line x1="255.5" y1="290.4" x2="255.5" y2="293.59999999999997" stroke="#000" stroke-width="0.7"/>
<line x1="322.5" y1="290.4" x2="322.5" y2="293.59999999999997" stroke="#000" stroke-width="0.7"/>
<line x1="388.5" y1="290.4" x2="388.5" y2="293.59999999999997" stroke="#000" stroke-width="0.7"/>
<line x1="455.5" y1="290.4" x2="455.5" y2="293.59999999999997" stroke="#000" stroke-width="0.7"/>
<line x1="522.5" y1="290.4" x2="522.5" y2="293.59999999999997" stroke="#000" stroke-width="0.7"/>
<line x1="589.5" y1="290.4" x2="589.5" y2="293.59999999999997" stroke="#000" stroke-width="0.7"/>
<line x1="51.65" y1="235.5" x2="54.85" y2="235.5" stroke="#000" stroke-width="0.7"/>
<line x1="593.3499999999999" y1="235.5" x2="596.55" y2="235.5" stroke="#000" stroke-width="0.7"/>
<text x="48.4" y="238.40" text-anchor="end" font-size="7.9" textLength="13.0" lengthAdjust="spacingAndGlyphs" fill="#222" stroke="#222" stroke-width="0.12" >292</text>
<line x1="51.65" y1="255.5" x2="54.85" y2="255.5" stroke="#000" stroke-width="0.7"/>
<line x1="593.3499999999999" y1="255.5" x2="596.55" y2="255.5" stroke="#000" stroke-width="0.7"/>
<text x="48.4" y="258.40" text-anchor="end" font-size="7.9" textLength="13.0" lengthAdjust="spacingAndGlyphs" fill="#222" stroke="#222" stroke-width="0.12" >288</text>
<line x1="51.65" y1="275.5" x2="54.85" y2="275.5" stroke="#000" stroke-width="0.7"/>
<line x1="593.3499999999999" y1="275.5" x2="596.55" y2="275.5" stroke="#000" stroke-width="0.7"/>
<text x="48.4" y="278.40" text-anchor="end" font-size="7.9" textLength="13.0" lengthAdjust="spacingAndGlyphs" fill="#222" stroke="#222" stroke-width="0.12" >284</text>
<text transform="translate(25.9,259.88) rotate(-90)" text-anchor="middle" font-size="8.6" textLength="47.6" lengthAdjust="spacingAndGlyphs" fill="#222" stroke="#222" stroke-width="0.1" >MolSA (<tspan dx="0.6" font-style="italic">Å</tspan><tspan dx="0.6" dy="-2.9" font-size="6">2</tspan><tspan dx="0.8" dy="2.9">)</tspan></text>
<rect x="54.85" y="302.65" width="535.6" height="61.05" fill="none" stroke="#000" stroke-width="0.7"/>
<rect x="596.55" y="302.65" width="74.80000000000007" height="61.05" fill="none" stroke="#000" stroke-width="0.7"/>
<line x1="54.5" y1="363.7" x2="54.5" y2="366.9" stroke="#000" stroke-width="0.7"/>
<line x1="121.5" y1="363.7" x2="121.5" y2="366.9" stroke="#000" stroke-width="0.7"/>
<line x1="188.5" y1="363.7" x2="188.5" y2="366.9" stroke="#000" stroke-width="0.7"/>
<line x1="255.5" y1="363.7" x2="255.5" y2="366.9" stroke="#000" stroke-width="0.7"/>
<line x1="322.5" y1="363.7" x2="322.5" y2="366.9" stroke="#000" stroke-width="0.7"/>
<line x1="388.5" y1="363.7" x2="388.5" y2="366.9" stroke="#000" stroke-width="0.7"/>
<line x1="455.5" y1="363.7" x2="455.5" y2="366.9" stroke="#000" stroke-width="0.7"/>
<line x1="522.5" y1="363.7" x2="522.5" y2="366.9" stroke="#000" stroke-width="0.7"/>
<line x1="589.5" y1="363.7" x2="589.5" y2="366.9" stroke="#000" stroke-width="0.7"/>
<line x1="51.65" y1="302.5" x2="54.85" y2="302.5" stroke="#000" stroke-width="0.7"/>
<line x1="593.3499999999999" y1="302.5" x2="596.55" y2="302.5" stroke="#000" stroke-width="0.7"/>
<text x="48.4" y="305.40" text-anchor="end" font-size="7.9" textLength="13.0" lengthAdjust="spacingAndGlyphs" fill="#222" stroke="#222" stroke-width="0.12" >250</text>
<line x1="51.65" y1="318.5" x2="54.85" y2="318.5" stroke="#000" stroke-width="0.7"/>
<line x1="593.3499999999999" y1="318.5" x2="596.55" y2="318.5" stroke="#000" stroke-width="0.7"/>
<text x="48.4" y="321.40" text-anchor="end" font-size="7.9" textLength="13.0" lengthAdjust="spacingAndGlyphs" fill="#222" stroke="#222" stroke-width="0.12" >200</text>
<line x1="51.65" y1="333.5" x2="54.85" y2="333.5" stroke="#000" stroke-width="0.7"/>
<line x1="593.3499999999999" y1="333.5" x2="596.55" y2="333.5" stroke="#000" stroke-width="0.7"/>
<text x="48.4" y="336.40" text-anchor="end" font-size="7.9" textLength="13.0" lengthAdjust="spacingAndGlyphs" fill="#222" stroke="#222" stroke-width="0.12" >150</text>
<line x1="51.65" y1="349.5" x2="54.85" y2="349.5" stroke="#000" stroke-width="0.7"/>
<line x1="593.3499999999999" y1="349.5" x2="596.55" y2="349.5" stroke="#000" stroke-width="0.7"/>
<text x="48.4" y="352.40" text-anchor="end" font-size="7.9" textLength="13.0" lengthAdjust="spacingAndGlyphs" fill="#222" stroke="#222" stroke-width="0.12" >100</text>
<text transform="translate(25.9,333.17) rotate(-90)" text-anchor="middle" font-size="8.6" textLength="44.0" lengthAdjust="spacingAndGlyphs" fill="#222" stroke="#222" stroke-width="0.1" >SASA (<tspan dx="0.6" font-style="italic">Å</tspan><tspan dx="0.6" dy="-2.9" font-size="6">2</tspan><tspan dx="0.8" dy="2.9">)</tspan></text>
<rect x="54.85" y="375.95" width="535.6" height="61.05" fill="none" stroke="#000" stroke-width="0.7"/>
<rect x="596.55" y="375.95" width="74.80000000000007" height="61.05" fill="none" stroke="#000" stroke-width="0.7"/>
<line x1="54.5" y1="437.0" x2="54.5" y2="440.2" stroke="#000" stroke-width="0.7"/>
<line x1="121.5" y1="437.0" x2="121.5" y2="440.2" stroke="#000" stroke-width="0.7"/>
<line x1="188.5" y1="437.0" x2="188.5" y2="440.2" stroke="#000" stroke-width="0.7"/>
<line x1="255.5" y1="437.0" x2="255.5" y2="440.2" stroke="#000" stroke-width="0.7"/>
<line x1="322.5" y1="437.0" x2="322.5" y2="440.2" stroke="#000" stroke-width="0.7"/>
<line x1="388.5" y1="437.0" x2="388.5" y2="440.2" stroke="#000" stroke-width="0.7"/>
<line x1="455.5" y1="437.0" x2="455.5" y2="440.2" stroke="#000" stroke-width="0.7"/>
<line x1="522.5" y1="437.0" x2="522.5" y2="440.2" stroke="#000" stroke-width="0.7"/>
<line x1="589.5" y1="437.0" x2="589.5" y2="440.2" stroke="#000" stroke-width="0.7"/>
<line x1="51.65" y1="387.5" x2="54.85" y2="387.5" stroke="#000" stroke-width="0.7"/>
<line x1="593.3499999999999" y1="387.5" x2="596.55" y2="387.5" stroke="#000" stroke-width="0.7"/>
<text x="48.4" y="390.40" text-anchor="end" font-size="7.9" textLength="13.0" lengthAdjust="spacingAndGlyphs" fill="#222" stroke="#222" stroke-width="0.12" >258</text>
<line x1="51.65" y1="404.5" x2="54.85" y2="404.5" stroke="#000" stroke-width="0.7"/>
<line x1="593.3499999999999" y1="404.5" x2="596.55" y2="404.5" stroke="#000" stroke-width="0.7"/>
<text x="48.4" y="407.40" text-anchor="end" font-size="7.9" textLength="13.0" lengthAdjust="spacingAndGlyphs" fill="#222" stroke="#222" stroke-width="0.12" >252</text>
<line x1="51.65" y1="421.5" x2="54.85" y2="421.5" stroke="#000" stroke-width="0.7"/>
<line x1="593.3499999999999" y1="421.5" x2="596.55" y2="421.5" stroke="#000" stroke-width="0.7"/>
<text x="48.4" y="424.40" text-anchor="end" font-size="7.9" textLength="13.0" lengthAdjust="spacingAndGlyphs" fill="#222" stroke="#222" stroke-width="0.12" >246</text>
<text transform="translate(25.9,406.48) rotate(-90)" text-anchor="middle" font-size="8.6" textLength="37.0" lengthAdjust="spacingAndGlyphs" fill="#222" stroke="#222" stroke-width="0.1" >PSA (<tspan dx="0.6" font-style="italic">Å</tspan><tspan dx="0.6" dy="-2.9" font-size="6">2</tspan><tspan dx="0.8" dy="2.9">)</tspan></text>
<text x="54.5" y="450.0" text-anchor="middle" font-size="8.6" textLength="5.4" lengthAdjust="spacingAndGlyphs" fill="#222" stroke="#222" stroke-width="0.1" >0</text>
<text x="121.5" y="450.0" text-anchor="middle" font-size="8.6" textLength="10.8" lengthAdjust="spacingAndGlyphs" fill="#222" stroke="#222" stroke-width="0.1" >25</text>
<text x="188.5" y="450.0" text-anchor="middle" font-size="8.6" textLength="10.8" lengthAdjust="spacingAndGlyphs" fill="#222" stroke="#222" stroke-width="0.1" >50</text>
<text x="255.5" y="450.0" text-anchor="middle" font-size="8.6" textLength="10.8" lengthAdjust="spacingAndGlyphs" fill="#222" stroke="#222" stroke-width="0.1" >75</text>
<text x="322.5" y="450.0" text-anchor="middle" font-size="8.6" textLength="16.5" lengthAdjust="spacingAndGlyphs" fill="#222" stroke="#222" stroke-width="0.1" >100</text>
<text x="388.5" y="450.0" text-anchor="middle" font-size="8.6" textLength="16.5" lengthAdjust="spacingAndGlyphs" fill="#222" stroke="#222" stroke-width="0.1" >125</text>
<text x="455.5" y="450.0" text-anchor="middle" font-size="8.6" textLength="16.5" lengthAdjust="spacingAndGlyphs" fill="#222" stroke="#222" stroke-width="0.1" >150</text>
<text x="522.5" y="450.0" text-anchor="middle" font-size="8.6" textLength="16.5" lengthAdjust="spacingAndGlyphs" fill="#222" stroke="#222" stroke-width="0.1" >175</text>
<text x="589.5" y="450.0" text-anchor="middle" font-size="8.6" textLength="16.5" lengthAdjust="spacingAndGlyphs" fill="#222" stroke="#222" stroke-width="0.1" >200</text>
<text x="322.6" y="462.6" text-anchor="middle" font-size="10.0" textLength="61.0" lengthAdjust="spacingAndGlyphs" fill="#222" stroke="#222" stroke-width="0.1" >Time (nsec)</text>
</svg></body></html>
